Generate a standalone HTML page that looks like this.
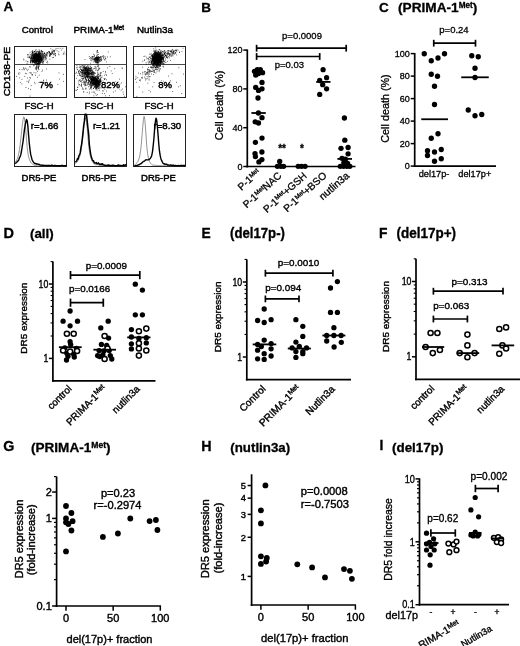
<!DOCTYPE html>
<html><head><meta charset="utf-8"><title>Figure</title>
<style>html,body{margin:0;padding:0;background:#fff}svg{display:block}text{font-family:"Liberation Sans", sans-serif;fill:#000}</style>
</head><body>
<svg width="520" height="646" viewBox="0 0 520 646">
<rect width="520" height="646" fill="#fff"/>
<text x="3.6" y="10.8" font-size="13.5" text-anchor="start" font-weight="bold" stroke="#000" stroke-width="0.3">A</text>
<text x="37.3" y="33.2" font-size="9.7" text-anchor="middle" font-weight="normal" stroke="#000" stroke-width="0.45">Control</text>
<text x="98.8" y="33.2" font-size="9.9" text-anchor="middle" font-weight="normal" stroke="#000" stroke-width="0.45">PRIMA-1<tspan dy="-3.5" font-size="6.3">Met</tspan></text>
<text x="155" y="33.2" font-size="9.8" text-anchor="middle" font-weight="normal" stroke="#000" stroke-width="0.45">Nutlin3a</text>
<text x="10" y="71.5" font-size="9.4" text-anchor="middle" font-weight="normal" stroke="#000" stroke-width="0.45" transform="rotate(-90 10 71.5)" textLength="49.5" lengthAdjust="spacingAndGlyphs">CD138-PE</text>
<rect x="14.5" y="46.5" width="52" height="51" fill="none" stroke="#222" stroke-width="1.0"/>
<line x1="14.5" y1="64.5" x2="66.5" y2="64.5" stroke="#333" stroke-width="0.9"/>
<rect x="74.5" y="46.5" width="52" height="51" fill="none" stroke="#222" stroke-width="1.0"/>
<line x1="74.5" y1="64.5" x2="126.5" y2="64.5" stroke="#333" stroke-width="0.9"/>
<rect x="133.5" y="46.5" width="52" height="51" fill="none" stroke="#222" stroke-width="1.0"/>
<line x1="133.5" y1="64.5" x2="185.5" y2="64.5" stroke="#333" stroke-width="0.9"/>
<path d="M36.0 59.5h0.75M36.1 57.4h0.75M34.3 57.7h0.75M39.6 59.3h0.75M39.4 58.8h0.75M37.7 58.7h0.75M32.4 60.3h0.75M38.0 59.4h0.75M32.3 53.8h0.75M34.4 57.0h0.75M37.5 58.1h0.75M38.1 56.6h0.75M37.5 59.2h0.75M35.0 62.5h0.75M38.1 61.2h0.75M35.1 56.4h0.75M35.8 57.9h0.75M38.3 58.8h0.75M35.5 55.8h0.75M35.3 61.3h0.75M34.6 58.8h0.75M37.8 54.5h0.75M36.8 61.5h0.75M31.5 57.4h0.75M36.4 56.2h0.75M38.0 58.0h0.75M32.9 60.3h0.75M38.4 60.6h0.75M40.4 59.1h0.75M37.0 55.0h0.75M38.3 56.7h0.75M35.5 55.0h0.75M34.2 56.9h0.75M40.1 53.1h0.75M32.9 58.8h0.75M40.5 59.6h0.75M31.8 51.9h0.75M37.6 56.4h0.75M33.8 60.6h0.75M39.6 58.6h0.75M37.3 59.3h0.75M40.8 59.7h0.75M38.0 59.6h0.75M32.6 61.4h0.75M39.2 59.5h0.75M31.6 56.6h0.75M38.9 53.7h0.75M36.2 60.7h0.75M33.3 62.2h0.75M38.1 57.8h0.75M37.5 59.8h0.75M37.0 61.1h0.75M35.0 57.2h0.75M39.4 58.3h0.75M34.4 60.6h0.75M40.5 57.1h0.75M33.1 57.9h0.75M36.3 57.5h0.75M40.4 55.6h0.75M40.0 55.0h0.75M34.7 59.8h0.75M39.6 60.3h0.75M37.6 58.6h0.75M37.1 59.6h0.75M36.2 58.9h0.75M38.2 58.2h0.75M38.7 59.6h0.75M41.9 59.0h0.75M35.6 57.3h0.75M36.7 60.5h0.75M35.8 59.2h0.75M41.5 51.8h0.75M33.8 58.8h0.75M37.7 58.8h0.75M35.6 59.8h0.75M37.4 56.9h0.75M43.0 59.1h0.75M35.3 58.0h0.75M36.1 58.0h0.75M29.6 57.0h0.75M39.3 55.3h0.75M36.5 60.6h0.75M38.9 61.9h0.75M32.3 57.3h0.75M35.8 59.8h0.75M39.5 51.5h0.75M39.5 54.6h0.75M38.5 54.5h0.75M37.2 61.2h0.75M36.3 58.7h0.75M38.8 58.6h0.75M36.5 62.0h0.75M39.4 57.5h0.75M43.8 55.3h0.75M39.1 57.5h0.75M37.0 60.0h0.75M37.3 59.8h0.75M32.7 54.4h0.75M38.3 55.8h0.75M34.0 54.5h0.75M40.0 60.1h0.75M40.5 55.9h0.75M36.7 55.3h0.75M38.7 62.2h0.75M34.4 62.1h0.75M39.3 57.8h0.75M31.6 61.7h0.75M36.4 56.7h0.75M37.7 59.2h0.75M40.6 55.6h0.75M39.7 61.9h0.75M40.5 57.7h0.75M34.8 60.7h0.75M37.0 58.5h0.75M40.4 57.5h0.75M30.7 57.2h0.75M31.9 60.2h0.75M37.5 56.7h0.75M36.7 60.3h0.75M36.9 61.5h0.75M36.5 60.8h0.75M40.6 62.2h0.75M35.0 60.4h0.75M31.8 55.5h0.75M31.6 60.9h0.75M33.5 58.2h0.75M36.2 58.1h0.75M35.2 58.8h0.75M41.4 58.3h0.75M38.1 60.7h0.75M36.2 55.1h0.75M35.3 60.9h0.75M32.4 56.7h0.75M39.3 60.2h0.75M36.7 60.2h0.75M37.1 55.3h0.75M32.6 56.6h0.75M39.1 56.8h0.75M34.4 56.3h0.75M32.7 57.9h0.75M33.6 59.1h0.75M30.6 59.0h0.75M35.0 53.3h0.75M38.6 57.5h0.75M30.9 56.0h0.75M37.5 57.1h0.75M38.7 60.1h0.75M38.4 59.0h0.75M40.2 59.8h0.75M37.9 53.0h0.75M39.0 61.5h0.75M35.9 57.0h0.75M41.7 53.8h0.75M37.9 64.3h0.75M34.3 59.9h0.75M41.6 57.9h0.75M38.2 60.5h0.75M34.3 58.0h0.75M37.5 60.3h0.75M36.6 57.7h0.75M34.1 57.3h0.75M39.0 58.5h0.75M34.5 56.1h0.75M43.6 61.0h0.75M38.4 51.7h0.75M38.3 59.4h0.75M41.1 59.3h0.75M36.5 59.5h0.75M31.6 60.8h0.75M37.5 56.4h0.75M40.1 62.7h0.75M33.1 56.5h0.75M37.5 58.7h0.75M35.7 55.8h0.75M42.2 60.8h0.75M33.6 54.8h0.75M41.1 60.7h0.75M41.4 60.2h0.75M34.4 58.9h0.75M31.1 56.3h0.75M36.5 59.5h0.75M34.8 57.9h0.75M37.9 59.1h0.75M38.4 58.7h0.75M35.9 60.2h0.75M36.8 56.1h0.75M35.1 58.2h0.75M36.4 58.6h0.75M36.7 58.6h0.75M36.4 55.1h0.75M37.8 60.8h0.75M37.8 57.7h0.75M37.9 55.8h0.75M31.8 58.3h0.75M34.3 60.0h0.75M33.9 51.6h0.75M34.0 62.1h0.75M35.7 54.8h0.75M34.7 59.5h0.75M38.0 58.6h0.75M40.6 60.0h0.75M36.6 59.7h0.75M41.0 60.6h0.75M39.4 55.5h0.75M36.3 60.0h0.75M35.9 60.9h0.75M38.3 60.5h0.75M36.1 64.6h0.75M39.9 57.7h0.75M36.9 64.7h0.75M35.8 60.4h0.75M39.2 58.2h0.75M33.7 58.7h0.75M37.6 61.0h0.75M38.7 58.3h0.75M38.9 59.5h0.75M37.2 58.3h0.75M36.1 59.9h0.75M34.0 56.6h0.75M36.7 54.5h0.75M35.6 53.2h0.75M34.9 59.6h0.75M38.2 58.1h0.75M36.1 54.7h0.75M41.5 59.5h0.75M39.5 56.0h0.75M36.2 53.7h0.75M38.7 60.5h0.75M31.8 58.1h0.75M38.3 53.8h0.75M32.0 55.5h0.75M35.1 54.7h0.75M36.8 58.8h0.75M38.3 60.0h0.75M40.6 61.1h0.75M33.3 56.9h0.75M33.9 55.5h0.75M36.5 58.2h0.75M38.0 54.2h0.75M33.5 58.1h0.75M36.2 57.4h0.75M36.5 56.3h0.75M38.5 59.1h0.75M36.5 56.5h0.75M36.2 51.4h0.75M34.1 58.3h0.75M32.8 58.7h0.75M37.1 54.8h0.75M36.0 57.4h0.75M37.9 59.7h0.75M36.6 56.1h0.75M36.3 58.0h0.75M38.6 58.9h0.75M34.8 54.8h0.75M35.7 56.3h0.75M33.8 57.9h0.75M35.4 58.5h0.75M38.1 57.2h0.75M42.7 57.4h0.75M39.6 58.5h0.75M39.6 52.3h0.75M34.7 58.8h0.75M38.3 64.0h0.75M37.5 61.4h0.75M38.7 60.6h0.75M38.0 57.8h0.75M38.0 55.5h0.75M39.8 55.7h0.75M37.3 63.5h0.75M36.1 58.2h0.75M39.7 58.3h0.75M34.6 58.8h0.75M38.2 60.0h0.75M34.7 62.6h0.75M41.0 58.2h0.75M37.4 57.1h0.75M40.4 56.4h0.75M38.5 57.0h0.75M34.9 60.0h0.75M40.2 58.2h0.75M34.9 60.2h0.75M36.6 59.0h0.75M40.7 61.0h0.75M35.3 63.9h0.75M36.7 60.2h0.75M35.0 58.1h0.75M32.2 62.7h0.75M40.3 55.2h0.75M32.8 54.1h0.75M39.8 57.1h0.75M36.5 57.4h0.75M36.4 55.5h0.75M36.8 54.6h0.75M36.5 59.0h0.75M37.9 57.6h0.75M34.4 58.6h0.75M35.4 62.1h0.75M38.7 57.9h0.75M35.5 56.4h0.75M34.3 57.3h0.75M37.5 59.5h0.75M38.2 63.4h0.75M34.9 58.2h0.75M44.0 53.5h0.75M35.3 58.6h0.75M37.1 59.2h0.75M36.1 59.1h0.75M36.8 60.1h0.75M31.8 56.0h0.75M36.7 55.6h0.75M34.0 59.8h0.75M35.0 59.8h0.75M38.6 59.0h0.75M38.0 57.9h0.75M33.0 58.1h0.75M37.9 56.9h0.75M36.4 60.1h0.75M34.4 59.8h0.75M41.5 56.8h0.75M37.1 57.8h0.75M40.7 59.0h0.75M39.0 56.5h0.75M36.7 58.2h0.75M32.1 61.8h0.75M39.0 53.8h0.75M38.6 57.9h0.75M37.9 59.1h0.75M32.8 57.7h0.75M40.6 56.8h0.75M34.0 54.8h0.75M33.5 59.0h0.75M41.1 59.3h0.75M37.3 63.8h0.75M35.3 56.5h0.75M38.1 59.6h0.75M34.1 55.3h0.75M37.5 58.8h0.75M33.3 57.7h0.75M35.3 59.4h0.75M36.4 58.0h0.75M35.8 60.8h0.75M40.3 57.3h0.75M38.9 56.3h0.75M36.9 60.1h0.75M40.6 57.2h0.75M36.5 58.7h0.75M32.8 58.2h0.75M34.9 59.1h0.75M33.8 53.3h0.75M36.8 58.9h0.75M35.3 60.4h0.75M36.0 56.7h0.75M37.9 54.3h0.75M34.9 58.1h0.75M38.9 57.8h0.75M37.5 56.6h0.75M37.5 62.4h0.75M34.9 64.1h0.75M35.0 58.2h0.75M37.2 60.8h0.75M33.5 52.9h0.75M38.3 60.2h0.75M38.3 64.8h0.75M37.2 58.8h0.75M39.1 59.1h0.75M41.0 55.1h0.75M35.7 49.6h0.75M38.8 57.3h0.75M39.1 63.6h0.75M36.7 57.6h0.75M35.4 56.1h0.75M35.1 59.8h0.75M36.8 58.4h0.75M36.2 60.5h0.75M38.0 57.8h0.75M38.4 57.8h0.75M33.7 61.8h0.75M37.9 55.8h0.75M39.5 59.1h0.75M32.6 62.2h0.75M37.6 60.4h0.75M37.2 57.8h0.75M32.7 60.6h0.75M36.8 57.5h0.75M37.6 58.4h0.75M38.5 57.3h0.75M36.6 52.9h0.75M35.6 59.9h0.75M40.2 57.3h0.75M36.4 62.2h0.75M35.9 60.0h0.75M41.1 58.3h0.75M39.9 56.4h0.75M37.2 58.0h0.75M37.0 61.0h0.75M42.9 56.5h0.75M35.2 59.4h0.75M34.0 59.4h0.75M38.2 57.5h0.75M38.1 54.3h0.75M38.7 54.3h0.75M34.9 56.8h0.75M35.7 60.3h0.75M36.9 57.2h0.75M38.1 62.2h0.75M36.7 59.1h0.75M39.9 58.9h0.75M33.4 64.4h0.75M42.4 53.2h0.75M36.6 59.2h0.75M39.2 59.9h0.75M36.0 55.6h0.75M37.0 60.8h0.75M33.9 55.6h0.75M36.6 53.4h0.75M36.0 57.1h0.75M37.9 56.4h0.75M34.4 57.2h0.75M36.6 56.5h0.75M36.7 60.1h0.75M39.8 62.5h0.75M34.7 57.2h0.75M30.2 62.9h0.75M34.8 58.1h0.75M38.1 54.8h0.75M37.9 58.1h0.75M32.0 58.9h0.75M39.8 53.5h0.75M38.8 58.7h0.75M37.9 59.3h0.75M40.1 57.6h0.75M39.0 57.2h0.75M38.6 56.2h0.75M36.4 62.5h0.75M37.9 57.8h0.75M33.7 56.2h0.75M37.2 60.5h0.75M37.8 59.5h0.75M36.6 61.6h0.75M35.7 56.8h0.75M39.0 58.4h0.75M36.0 56.8h0.75M36.0 59.8h0.75M37.6 55.2h0.75M37.8 58.6h0.75M34.1 60.1h0.75M36.0 57.4h0.75M38.8 61.5h0.75M34.9 59.3h0.75M34.4 64.0h0.75M35.4 61.2h0.75M35.0 60.2h0.75M42.5 51.8h0.75M35.6 59.5h0.75M36.5 56.5h0.75M42.3 58.4h0.75M32.4 60.3h0.75M32.2 61.1h0.75M35.2 58.6h0.75M40.0 58.5h0.75M33.1 54.0h0.75M39.8 60.1h0.75M34.6 60.3h0.75M38.0 59.8h0.75M30.8 57.4h0.75M39.0 60.0h0.75M39.0 52.1h0.75M37.1 59.4h0.75M43.3 55.8h0.75M35.8 58.3h0.75M39.0 57.1h0.75M39.7 56.2h0.75M37.4 56.9h0.75M37.1 56.5h0.75M32.5 60.9h0.75M37.5 56.8h0.75M37.2 60.7h0.75M34.2 57.9h0.75M38.1 59.5h0.75M35.8 52.9h0.75M39.9 59.0h0.75M36.7 57.5h0.75M37.4 57.1h0.75M34.0 56.4h0.75M35.1 56.7h0.75M33.7 59.8h0.75M33.3 59.8h0.75M34.1 59.1h0.75M40.3 58.7h0.75M34.8 58.3h0.75M37.1 53.9h0.75M35.1 58.6h0.75M35.5 58.4h0.75M38.6 60.1h0.75M39.1 59.7h0.75M36.0 58.2h0.75M36.0 57.4h0.75M36.2 53.9h0.75M35.8 58.1h0.75M34.2 58.1h0.75M38.0 57.8h0.75M42.1 51.7h0.75M36.2 53.6h0.75M39.2 64.8h0.75M30.2 58.5h0.75M38.0 57.4h0.75M38.1 52.6h0.75M38.9 59.1h0.75M36.8 56.7h0.75M38.4 57.0h0.75M37.3 56.9h0.75M30.9 58.1h0.75M37.2 60.1h0.75M34.4 58.1h0.75M38.3 58.6h0.75M39.9 63.2h0.75M34.3 53.4h0.75M38.9 62.0h0.75M39.1 60.2h0.75M35.1 56.4h0.75M39.0 55.9h0.75M32.0 55.7h0.75M43.2 63.0h0.75M34.9 56.4h0.75M37.3 56.3h0.75M40.1 58.0h0.75M33.9 61.5h0.75M35.2 58.8h0.75M36.7 57.4h0.75M37.5 56.5h0.75M31.9 52.7h0.75M33.4 56.3h0.75M36.6 58.3h0.75M38.1 58.5h0.75M34.6 56.4h0.75M31.2 57.8h0.75M38.0 59.5h0.75M36.4 57.8h0.75M39.1 58.2h0.75M38.6 59.7h0.75M37.3 61.5h0.75M35.2 57.3h0.75M34.6 56.2h0.75M40.7 62.6h0.75M36.8 59.6h0.75M39.8 60.2h0.75M39.8 55.0h0.75M35.0 59.3h0.75M40.4 58.5h0.75M34.5 57.3h0.75M35.0 56.1h0.75M40.6 56.6h0.75M36.8 63.6h0.75M39.8 59.0h0.75M35.1 59.2h0.75M40.9 59.8h0.75M40.0 58.4h0.75M38.0 57.7h0.75M37.8 61.5h0.75M33.0 58.0h0.75M37.3 56.8h0.75M35.9 60.2h0.75M41.9 59.8h0.75M37.5 54.3h0.75M41.7 58.4h0.75M36.6 55.4h0.75M36.6 55.5h0.75M36.9 59.4h0.75M36.8 58.9h0.75M34.5 61.8h0.75M35.0 53.7h0.75M36.2 56.3h0.75M34.1 57.3h0.75M37.5 55.2h0.75M36.3 61.8h0.75M38.5 57.8h0.75M37.0 57.9h0.75M36.6 60.0h0.75M36.5 52.2h0.75M36.6 56.0h0.75M38.4 56.7h0.75M37.1 63.6h0.75M34.0 55.4h0.75M33.0 52.2h0.75M31.8 59.1h0.75M35.0 53.5h0.75M32.8 59.7h0.75M34.7 57.3h0.75M37.6 61.6h0.75M41.7 60.8h0.75M37.1 58.7h0.75M41.4 61.8h0.75M35.9 59.3h0.75M37.4 58.3h0.75M35.4 54.9h0.75M35.3 54.3h0.75M39.9 59.5h0.75M33.6 61.7h0.75M39.0 53.4h0.75M41.5 60.2h0.75M42.1 55.1h0.75M38.1 59.3h0.75M37.2 58.6h0.75M39.4 54.5h0.75M33.5 54.7h0.75M35.3 56.7h0.75M37.7 58.9h0.75M36.8 56.5h0.75M35.6 60.6h0.75M38.7 58.5h0.75M35.9 62.1h0.75M35.2 59.8h0.75M39.7 57.5h0.75M38.8 55.4h0.75M39.3 58.7h0.75M32.6 59.9h0.75M34.4 61.4h0.75M34.9 57.8h0.75M37.4 57.4h0.75M37.4 56.8h0.75M38.4 58.2h0.75M37.2 51.3h0.75M39.7 58.3h0.75M32.1 58.4h0.75M37.9 60.9h0.75M33.9 62.1h0.75M36.3 64.2h0.75M36.3 59.9h0.75M35.7 55.4h0.75M39.6 60.5h0.75M40.7 60.3h0.75M35.2 54.0h0.75M35.0 56.5h0.75M34.6 59.7h0.75M37.6 57.5h0.75M37.1 57.8h0.75M37.3 60.1h0.75M39.2 56.5h0.75M32.8 61.8h0.75M37.0 61.0h0.75M32.4 57.4h0.75M36.8 54.6h0.75M35.4 60.0h0.75M39.5 62.2h0.75M34.5 54.7h0.75M38.1 60.6h0.75M37.2 54.9h0.75M38.7 60.2h0.75M38.1 57.0h0.75M37.5 60.2h0.75M34.2 51.6h0.75M38.6 58.9h0.75M37.1 60.5h0.75M34.1 57.6h0.75M35.5 59.7h0.75M45.0 55.5h0.75M47.3 61.3h0.75M41.0 59.0h0.75M45.9 55.6h0.75M36.4 53.9h0.75M39.4 61.8h0.75M39.7 58.6h0.75M36.0 58.2h0.75M29.9 62.1h0.75M35.0 54.0h0.75M33.2 55.2h0.75M41.3 60.5h0.75M30.2 61.6h0.75M41.4 54.9h0.75M29.6 56.0h0.75M33.8 59.1h0.75M35.2 50.8h0.75M38.2 52.1h0.75M41.5 52.7h0.75M33.5 55.1h0.75M34.3 62.3h0.75M41.3 59.0h0.75M38.6 52.0h0.75M34.4 56.0h0.75M32.1 59.9h0.75M33.3 55.6h0.75M31.8 51.2h0.75M40.0 61.6h0.75M37.9 54.0h0.75M23.5 60.0h0.75M43.1 57.7h0.75M41.6 61.9h0.75M42.6 55.2h0.75M42.3 59.4h0.75M29.3 57.2h0.75M29.9 58.1h0.75M39.9 53.4h0.75M26.7 63.4h0.75M38.9 62.3h0.75M30.4 62.1h0.75M47.4 62.9h0.75M35.9 58.6h0.75M36.2 61.0h0.75M42.2 57.1h0.75M30.2 61.0h0.75M34.7 60.0h0.75M38.3 62.9h0.75M42.7 55.2h0.75M38.7 63.3h0.75M34.3 59.4h0.75M43.0 61.0h0.75M39.6 52.6h0.75M30.7 59.2h0.75M38.9 66.0h0.75M32.7 62.0h0.75M40.9 51.2h0.75M32.9 58.6h0.75M34.5 57.3h0.75M39.4 54.4h0.75M39.3 55.0h0.75M34.3 59.7h0.75M34.1 58.9h0.75M45.0 56.5h0.75M36.3 60.1h0.75M35.2 61.5h0.75M30.6 60.5h0.75M34.4 55.1h0.75M45.8 53.3h0.75M45.8 58.5h0.75M44.3 53.1h0.75M43.0 61.7h0.75M36.4 57.1h0.75M49.3 56.4h0.75M34.9 55.6h0.75M39.2 58.3h0.75M37.9 63.3h0.75M35.4 59.4h0.75M44.3 53.0h0.75M42.2 63.1h0.75M30.2 54.7h0.75M31.8 51.9h0.75M39.3 50.8h0.75M39.5 62.1h0.75M28.9 57.5h0.75M27.4 61.5h0.75M33.3 57.1h0.75M37.3 59.3h0.75M35.3 57.8h0.75M34.3 58.3h0.75M31.1 58.5h0.75M27.3 57.2h0.75M46.6 56.4h0.75M30.7 59.3h0.75M32.1 52.5h0.75M33.3 60.5h0.75M38.9 56.9h0.75M32.4 54.4h0.75M43.7 57.4h0.75M32.2 50.9h0.75M30.2 66.9h0.75M31.3 58.0h0.75M38.1 56.8h0.75M35.6 53.0h0.75M31.7 64.0h0.75M33.2 60.9h0.75M28.5 57.7h0.75M38.3 60.9h0.75M31.4 60.3h0.75M38.9 54.7h0.75M39.4 54.1h0.75M33.0 58.0h0.75M23.4 59.0h0.75M32.0 53.2h0.75M34.9 60.4h0.75M35.0 62.1h0.75M31.2 53.8h0.75M44.8 57.8h0.75M41.7 54.0h0.75M41.0 57.8h0.75M40.2 57.1h0.75M43.0 54.4h0.75M32.2 53.1h0.75M42.8 54.2h0.75M31.8 55.0h0.75M34.8 53.5h0.75M35.5 55.6h0.75M34.2 54.6h0.75M37.2 55.9h0.75M37.6 58.3h0.75M38.7 49.8h0.75M34.3 55.1h0.75M40.9 51.5h0.75M33.4 57.0h0.75M35.3 61.1h0.75M34.8 61.1h0.75M29.7 52.3h0.75M43.1 58.1h0.75M39.4 57.6h0.75M39.4 53.0h0.75M41.7 55.0h0.75M41.9 57.1h0.75M27.1 54.5h0.75M42.6 56.2h0.75M35.0 58.6h0.75M34.9 55.9h0.75M37.5 57.9h0.75M44.6 56.6h0.75M46.4 62.4h0.75M45.6 59.9h0.75M37.7 57.9h0.75M36.3 55.1h0.75M36.7 55.3h0.75M45.2 58.2h0.75M34.8 51.2h0.75M36.7 56.1h0.75M31.6 54.4h0.75M25.7 61.0h0.75M36.7 66.4h0.75M36.8 57.0h0.75M44.2 56.9h0.75M37.8 56.1h0.75M34.0 63.1h0.75M42.0 62.7h0.75M35.3 57.8h0.75M32.6 61.4h0.75M30.0 60.4h0.75M42.5 61.6h0.75M32.3 61.9h0.75M33.4 55.4h0.75M30.4 62.4h0.75M45.2 54.3h0.75M33.2 56.9h0.75M49.5 59.2h0.75M34.3 51.7h0.75M33.6 62.0h0.75M46.3 55.3h0.75M33.5 56.2h0.75M27.6 61.9h0.75M31.6 61.9h0.75M28.5 54.3h0.75M38.4 54.7h0.75M40.9 57.0h0.75M31.1 60.5h0.75M41.2 50.4h0.75M46.1 57.9h0.75M40.8 50.6h0.75M33.4 56.8h0.75M42.4 51.7h0.75M32.6 51.2h0.75M35.8 58.9h0.75M28.6 56.7h0.75M39.6 62.6h0.75M40.3 56.0h0.75M31.1 55.1h0.75M33.7 58.5h0.75M36.8 63.3h0.75M38.4 53.6h0.75M44.7 59.7h0.75M37.5 55.0h0.75M27.6 55.3h0.75M41.6 54.1h0.75M30.4 59.1h0.75M38.2 59.4h0.75M40.3 61.9h0.75M32.8 61.4h0.75M32.1 60.6h0.75M37.9 58.2h0.75M41.8 56.8h0.75M42.6 59.7h0.75M37.7 55.5h0.75M33.2 56.2h0.75M36.0 57.6h0.75M51.9 57.6h0.75M40.8 54.0h0.75M33.4 56.9h0.75M51.3 51.1h0.75M61.3 50.0h0.75M50.0 54.1h0.75M51.3 54.4h0.75M52.0 53.4h0.75M36.8 54.9h0.75M33.6 58.3h0.75M52.2 52.6h0.75M44.3 53.6h0.75M62.9 54.2h0.75M49.6 56.2h0.75M38.9 52.0h0.75M46.6 52.5h0.75M46.1 54.7h0.75M50.3 54.0h0.75M49.8 55.4h0.75M62.4 48.3h0.75M51.1 52.7h0.75M52.5 49.9h0.75M37.7 51.5h0.75M53.7 53.1h0.75M50.5 48.7h0.75M47.4 52.5h0.75M40.1 53.8h0.75M54.9 53.5h0.75M49.8 54.6h0.75M45.8 54.5h0.75M50.3 54.5h0.75M49.5 53.3h0.75M49.1 52.4h0.75M53.0 57.4h0.75M59.8 48.3h0.75M54.9 54.1h0.75M63.2 53.3h0.75M55.4 50.0h0.75M43.9 55.3h0.75M53.5 50.7h0.75M47.3 53.3h0.75M50.4 54.1h0.75M48.0 51.5h0.75M58.7 54.8h0.75M49.3 55.7h0.75M53.1 54.2h0.75M53.4 51.3h0.75M54.0 54.7h0.75M43.7 58.8h0.75M64.6 54.0h0.75M63.9 52.0h0.75M47.6 52.8h0.75M44.3 55.0h0.75M49.8 54.9h0.75M35.9 61.2h0.75M54.7 53.4h0.75M51.9 52.7h0.75M49.1 52.0h0.75M51.2 53.2h0.75M52.2 51.3h0.75M50.3 53.5h0.75M54.2 50.5h0.75M52.9 54.8h0.75M54.2 51.9h0.75M46.6 53.8h0.75M55.1 55.5h0.75M48.9 52.5h0.75M52.6 53.3h0.75M43.6 53.4h0.75M49.3 55.0h0.75M41.6 53.3h0.75M53.5 50.3h0.75M50.8 54.0h0.75M49.2 51.6h0.75M49.6 52.9h0.75M52.4 51.3h0.75M57.6 48.5h0.75M48.8 53.8h0.75M56.7 50.8h0.75M53.8 51.5h0.75M55.2 55.9h0.75M47.2 55.0h0.75M43.5 56.8h0.75M58.5 51.8h0.75M42.1 56.0h0.75M58.0 54.0h0.75M55.7 48.6h0.75M45.2 57.4h0.75M41.4 57.6h0.75M43.1 80.1h0.75M37.0 71.3h0.75M18.2 73.2h0.75M26.4 73.6h0.75M33.6 72.8h0.75M29.5 77.4h0.75M28.0 88.7h0.75M31.5 74.7h0.75M26.3 69.0h0.75M38.8 75.2h0.75M19.4 69.5h0.75M26.9 70.4h0.75M31.9 75.1h0.75M18.6 74.4h0.75M27.2 78.0h0.75M24.4 76.4h0.75M34.3 82.3h0.75M27.9 69.2h0.75M21.6 79.4h0.75M33.2 65.7h0.75M29.2 66.8h0.75M28.4 81.2h0.75M37.1 77.2h0.75M46.0 69.1h0.75M28.0 82.4h0.75M22.9 68.4h0.75M25.0 73.4h0.75M19.3 77.9h0.75M32.3 74.6h0.75M41.6 71.4h0.75M38.5 69.6h0.75M29.6 72.6h0.75M24.0 69.1h0.75M25.2 68.2h0.75M23.6 69.8h0.75M19.5 72.9h0.75M63.0 74.4h0.75M30.8 85.6h0.75M21.5 83.9h0.75M63.3 81.4h0.75M28.9 80.0h0.75M42.2 70.1h0.75M21.7 69.6h0.75M30.2 78.1h0.75M29.9 73.0h0.75M19.9 82.4h0.75M57.5 84.4h0.75M44.0 85.7h0.75M25.6 87.5h0.75M38.5 82.5h0.75M46.1 80.0h0.75M31.0 73.0h0.75M26.6 81.4h0.75M34.7 83.7h0.75M16.1 76.4h0.75M58.6 72.9h0.75M43.3 80.7h0.75M29.7 96.1h0.75M30.3 89.4h0.75M23.4 67.6h0.75M59.1 79.1h0.75M38.4 66.5h0.75M35.5 67.4h0.75M38.0 66.8h0.75M39.2 63.3h0.75M37.9 68.0h0.75M36.2 69.8h0.75M35.6 59.8h0.75M37.9 60.6h0.75M37.2 58.4h0.75M37.4 60.5h0.75M37.7 58.9h0.75M37.8 63.9h0.75M37.4 64.7h0.75M37.5 59.7h0.75M34.2 65.1h0.75M36.2 63.2h0.75M37.8 57.1h0.75M36.4 62.6h0.75M36.0 66.3h0.75M37.1 61.7h0.75M36.1 68.2h0.75M36.5 67.3h0.75M37.8 57.4h0.75M36.0 65.0h0.75M37.7 68.1h0.75M38.3 69.1h0.75M36.9 64.2h0.75M38.2 63.3h0.75M38.6 58.6h0.75M38.1 64.3h0.75M34.9 68.9h0.75M37.7 65.1h0.75M36.0 63.1h0.75M39.1 61.7h0.75M33.1 61.6h0.75M35.9 64.5h0.75M36.8 61.4h0.75M36.3 69.2h0.75M35.6 72.8h0.75M36.6 60.6h0.75M38.2 67.3h0.75M36.0 68.0h0.75M35.1 61.3h0.75M38.7 64.0h0.75M35.7 67.1h0.75M38.4 64.9h0.75M35.1 63.6h0.75M37.8 68.1h0.75M39.5 64.0h0.75M36.7 64.8h0.75M38.7 61.2h0.75M38.9 54.0h0.75M38.3 62.3h0.75M37.9 67.8h0.75M35.9 64.7h0.75M37.6 67.3h0.75M36.2 61.0h0.75M35.0 75.2h0.75M37.1 64.1h0.75M35.5 68.7h0.75" stroke="#000" stroke-width="0.75" fill="none"/>
<path d="M95.9 61.4h0.75M98.7 59.0h0.75M98.5 57.1h0.75M96.3 58.0h0.75M94.5 59.0h0.75M96.7 61.4h0.75M90.3 57.9h0.75M95.2 58.2h0.75M97.8 59.7h0.75M97.1 58.2h0.75M98.0 59.6h0.75M93.3 58.6h0.75M94.3 57.0h0.75M97.3 59.1h0.75M97.2 57.5h0.75M96.6 57.4h0.75M97.8 60.2h0.75M100.5 61.2h0.75M95.4 58.2h0.75M95.1 59.5h0.75M101.0 60.2h0.75M92.6 56.9h0.75M94.4 59.9h0.75M97.0 59.5h0.75M100.6 57.6h0.75M95.3 62.3h0.75M97.7 57.7h0.75M92.9 56.4h0.75M92.1 59.1h0.75M97.1 60.7h0.75M96.7 57.8h0.75M95.5 62.2h0.75M93.5 59.3h0.75M97.1 60.0h0.75M96.2 59.8h0.75M98.6 58.7h0.75M96.1 58.7h0.75M95.1 58.6h0.75M96.4 59.4h0.75M99.7 61.2h0.75M96.1 60.0h0.75M97.6 60.3h0.75M97.0 59.5h0.75M96.1 57.7h0.75M98.7 61.2h0.75M98.3 59.7h0.75M97.5 58.2h0.75M93.4 60.1h0.75M97.4 58.1h0.75M95.1 61.2h0.75M93.4 62.0h0.75M98.3 63.0h0.75M95.6 59.0h0.75M96.0 59.3h0.75M96.6 57.7h0.75M99.1 57.7h0.75M96.0 59.9h0.75M95.9 58.3h0.75M97.7 58.4h0.75M94.5 58.8h0.75M96.6 61.9h0.75M94.8 60.6h0.75M95.4 58.4h0.75M96.3 59.5h0.75M98.7 62.0h0.75M95.7 61.3h0.75M99.0 60.4h0.75M95.5 60.5h0.75M96.8 59.6h0.75M96.5 60.1h0.75M99.2 60.9h0.75M96.6 60.7h0.75M99.9 57.4h0.75M99.9 56.7h0.75M98.1 60.0h0.75M100.0 59.5h0.75M96.0 57.6h0.75M94.5 60.3h0.75M96.5 57.8h0.75M98.1 57.7h0.75M96.6 57.7h0.75M98.5 67.3h0.75M96.9 52.1h0.75M97.2 60.4h0.75M97.3 62.8h0.75M96.7 64.6h0.75M97.8 61.1h0.75M96.6 57.6h0.75M97.6 54.5h0.75M96.9 56.3h0.75M95.7 63.0h0.75M97.0 60.2h0.75M97.8 52.5h0.75M96.9 61.4h0.75M97.7 54.6h0.75M97.6 61.1h0.75M98.2 65.7h0.75M97.5 70.7h0.75M97.0 57.9h0.75M96.7 55.3h0.75M97.0 50.6h0.75M96.9 62.1h0.75M97.9 58.3h0.75M98.2 56.7h0.75M96.9 50.6h0.75M96.3 56.0h0.75M98.3 62.6h0.75M96.0 62.6h0.75M97.4 58.9h0.75M97.0 58.5h0.75M96.5 51.3h0.75M96.9 66.3h0.75M98.3 58.6h0.75M96.3 59.0h0.75M97.8 61.7h0.75M96.5 61.8h0.75M96.8 62.5h0.75M96.6 52.8h0.75M97.1 63.7h0.75M96.0 59.5h0.75M97.8 58.2h0.75M96.4 69.9h0.75M97.7 65.0h0.75M96.2 68.0h0.75M95.5 57.5h0.75M97.6 66.5h0.75M96.2 56.8h0.75M97.2 50.6h0.75M97.6 62.7h0.75M96.6 62.6h0.75M100.8 58.9h0.75M99.5 60.3h0.75M94.7 58.7h0.75M94.5 59.7h0.75M95.0 59.1h0.75M97.7 58.6h0.75M105.3 58.4h0.75M103.9 59.5h0.75M103.4 58.3h0.75M101.5 59.4h0.75M94.0 58.8h0.75M96.4 58.5h0.75M103.3 57.7h0.75M88.9 56.5h0.75M94.8 57.8h0.75M97.1 59.2h0.75M105.5 58.9h0.75M99.2 57.6h0.75M99.8 60.1h0.75M103.5 56.2h0.75M101.3 60.3h0.75M101.0 56.8h0.75M95.5 59.2h0.75M99.0 57.6h0.75M92.7 59.6h0.75M90.6 60.2h0.75M97.1 58.8h0.75M90.6 57.8h0.75M100.3 56.8h0.75M107.0 56.9h0.75M91.1 58.5h0.75M99.3 59.3h0.75M95.2 58.3h0.75M95.9 57.8h0.75M84.6 59.6h0.75M98.2 58.7h0.75M94.0 58.8h0.75M96.9 58.4h0.75M102.3 56.5h0.75M98.2 57.3h0.75M95.5 60.2h0.75M91.8 58.4h0.75M94.2 59.6h0.75M92.3 56.6h0.75M99.5 58.1h0.75M95.2 61.1h0.75M91.9 56.9h0.75M97.9 59.2h0.75M94.0 61.0h0.75M109.9 56.8h0.75M107.8 51.9h0.75M105.1 57.0h0.75M97.8 57.0h0.75M93.3 54.3h0.75M94.7 61.7h0.75M103.6 57.0h0.75M94.0 56.0h0.75M90.1 63.2h0.75M100.8 58.3h0.75M94.2 55.1h0.75M104.6 60.2h0.75M91.5 60.8h0.75M90.6 59.8h0.75M91.5 56.8h0.75M99.9 59.2h0.75M102.8 55.6h0.75M106.1 61.9h0.75M96.9 59.3h0.75M92.5 57.6h0.75M89.4 58.3h0.75M87.0 76.5h0.75M89.8 74.9h0.75M85.0 70.9h0.75M85.1 72.4h0.75M79.3 73.8h0.75M80.6 69.5h0.75M86.4 70.0h0.75M92.4 72.0h0.75M92.0 76.4h0.75M84.5 73.0h0.75M91.0 71.1h0.75M86.6 69.9h0.75M86.5 70.6h0.75M86.6 75.3h0.75M91.4 72.7h0.75M87.0 74.8h0.75M85.2 68.1h0.75M90.4 69.0h0.75M89.7 68.8h0.75M93.0 68.8h0.75M89.4 77.2h0.75M82.8 76.6h0.75M88.9 74.5h0.75M86.1 70.7h0.75M84.9 70.7h0.75M79.8 69.2h0.75M92.9 77.7h0.75M85.0 69.2h0.75M87.7 75.6h0.75M88.9 68.0h0.75M86.9 72.3h0.75M91.5 76.4h0.75M88.2 76.2h0.75M84.9 77.0h0.75M84.7 73.0h0.75M89.6 69.0h0.75M83.7 65.5h0.75M86.9 71.7h0.75M85.1 73.4h0.75M78.6 71.0h0.75M86.6 70.9h0.75M89.2 78.1h0.75M84.7 68.4h0.75M84.1 71.9h0.75M88.4 69.0h0.75M89.9 68.6h0.75M89.3 73.6h0.75M88.0 79.4h0.75M85.3 71.1h0.75M88.0 74.9h0.75M81.4 72.3h0.75M83.6 73.7h0.75M91.3 72.5h0.75M85.9 72.4h0.75M75.5 73.4h0.75M88.3 72.6h0.75M84.9 69.2h0.75M85.6 75.9h0.75M85.9 76.4h0.75M76.9 69.3h0.75M87.3 71.8h0.75M80.2 68.9h0.75M90.9 67.8h0.75M82.7 67.7h0.75M84.3 73.8h0.75M91.6 70.3h0.75M84.2 77.3h0.75M86.0 67.5h0.75M84.0 69.1h0.75M82.6 70.3h0.75M89.5 73.3h0.75M81.3 80.9h0.75M82.7 71.9h0.75M86.4 74.4h0.75M85.1 73.3h0.75M94.0 72.9h0.75M82.4 72.6h0.75M83.4 70.3h0.75M87.0 73.0h0.75M85.3 74.6h0.75M85.6 67.2h0.75M89.5 70.9h0.75M90.7 70.0h0.75M88.4 73.1h0.75M76.5 65.7h0.75M82.2 76.3h0.75M79.4 74.3h0.75M90.3 73.9h0.75M88.8 70.3h0.75M86.3 72.6h0.75M87.8 74.4h0.75M85.5 69.3h0.75M84.2 73.0h0.75M80.2 66.9h0.75M84.8 69.8h0.75M85.1 70.8h0.75M85.2 73.3h0.75M88.1 76.1h0.75M90.2 68.6h0.75M88.6 70.9h0.75M83.4 76.8h0.75M84.0 68.6h0.75M84.8 68.7h0.75M90.0 73.5h0.75M91.4 73.7h0.75M84.1 75.2h0.75M83.9 70.0h0.75M85.7 71.9h0.75M90.7 70.1h0.75M87.6 71.8h0.75M81.7 67.6h0.75M85.5 73.1h0.75M87.5 73.6h0.75M86.5 70.3h0.75M87.9 68.5h0.75M81.4 70.2h0.75M81.1 69.5h0.75M83.6 69.6h0.75M86.1 69.0h0.75M84.8 65.8h0.75M86.8 68.8h0.75M83.4 72.4h0.75M77.4 69.7h0.75M86.6 72.2h0.75M80.8 72.1h0.75M86.8 68.5h0.75M89.0 71.9h0.75M86.4 70.3h0.75M88.3 72.3h0.75M90.5 73.8h0.75M84.0 70.8h0.75M89.7 70.9h0.75M87.7 73.7h0.75M86.8 72.6h0.75M86.8 69.2h0.75M90.7 71.8h0.75M84.0 69.1h0.75M87.6 68.1h0.75M82.6 78.4h0.75M91.1 75.9h0.75M91.3 74.3h0.75M80.1 75.4h0.75M90.9 73.9h0.75M79.1 75.4h0.75M91.3 70.6h0.75M86.8 74.5h0.75M86.0 75.6h0.75M86.6 74.2h0.75M86.6 66.7h0.75M82.6 82.4h0.75M87.3 76.4h0.75M90.5 78.1h0.75M88.3 69.9h0.75M85.6 74.9h0.75M78.3 71.7h0.75M89.3 76.7h0.75M82.9 69.2h0.75M79.4 67.6h0.75M88.3 79.2h0.75M82.1 76.2h0.75M87.9 70.2h0.75M86.1 72.5h0.75M94.2 78.8h0.75M94.7 73.1h0.75M89.9 76.9h0.75M88.2 73.2h0.75M85.6 70.3h0.75M81.8 78.2h0.75M87.3 71.8h0.75M87.0 78.2h0.75M85.9 70.8h0.75M83.5 71.5h0.75M84.7 72.4h0.75M97.8 74.3h0.75M83.1 78.2h0.75M89.5 74.9h0.75M88.9 74.9h0.75M88.8 77.0h0.75M90.0 76.9h0.75M84.4 71.6h0.75M83.6 74.9h0.75M89.4 70.5h0.75M88.5 81.2h0.75M90.9 68.3h0.75M86.0 74.0h0.75M86.2 73.1h0.75M90.7 73.4h0.75M82.2 73.9h0.75M85.9 72.2h0.75M84.2 66.8h0.75M81.7 70.1h0.75M90.5 68.2h0.75M83.6 73.4h0.75M77.4 75.6h0.75M83.5 73.8h0.75M84.5 72.7h0.75M86.7 71.8h0.75M79.5 66.0h0.75M86.1 76.7h0.75M84.3 73.5h0.75M86.9 73.5h0.75M90.0 66.9h0.75M87.3 71.3h0.75M85.1 68.7h0.75M83.4 67.9h0.75M82.2 80.2h0.75M92.6 72.4h0.75M89.0 68.7h0.75M86.8 76.9h0.75M86.1 68.3h0.75M85.4 68.2h0.75M81.1 70.5h0.75M84.8 68.8h0.75M83.0 68.2h0.75M87.2 76.7h0.75M85.5 79.5h0.75M80.3 72.2h0.75M82.0 70.8h0.75M86.7 73.8h0.75M90.5 70.3h0.75M81.7 70.7h0.75M87.4 69.5h0.75M89.6 78.0h0.75M81.0 72.6h0.75M87.1 71.1h0.75M81.0 75.9h0.75M87.1 70.2h0.75M87.9 74.2h0.75M89.1 74.1h0.75M87.8 67.8h0.75M84.7 72.1h0.75M76.0 78.3h0.75M84.9 68.0h0.75M79.6 72.0h0.75M86.4 69.8h0.75M84.8 68.6h0.75M83.5 71.2h0.75M83.9 73.9h0.75M85.8 72.2h0.75M87.8 76.4h0.75M88.5 72.8h0.75M85.7 68.9h0.75M85.0 74.1h0.75M87.1 70.5h0.75M81.4 66.0h0.75M87.5 75.5h0.75M87.7 67.1h0.75M85.5 72.5h0.75M82.9 72.7h0.75M85.6 68.8h0.75M81.7 74.2h0.75M87.6 68.8h0.75M82.5 74.6h0.75M88.5 70.9h0.75M92.2 71.3h0.75M82.4 75.2h0.75M85.6 72.9h0.75M86.4 68.3h0.75M81.9 70.7h0.75M91.5 68.8h0.75M91.3 73.0h0.75M82.2 72.3h0.75M88.4 68.9h0.75M78.4 72.3h0.75M82.2 72.9h0.75M79.2 70.6h0.75M83.3 66.4h0.75M85.4 72.3h0.75M84.2 67.5h0.75M87.1 65.8h0.75M88.3 73.7h0.75M92.5 75.5h0.75M87.6 72.8h0.75M86.4 67.2h0.75M91.7 74.1h0.75M85.2 67.7h0.75M91.8 74.2h0.75M81.9 73.7h0.75M93.3 72.4h0.75M87.8 70.5h0.75M84.0 75.3h0.75M97.7 73.3h0.75M85.8 74.5h0.75M85.2 74.2h0.75M89.4 68.6h0.75M82.3 71.2h0.75M89.4 73.1h0.75M90.9 67.4h0.75M88.1 69.8h0.75M86.7 73.0h0.75M82.7 70.7h0.75M82.0 72.3h0.75M83.2 69.8h0.75M87.1 69.6h0.75M90.5 70.0h0.75M89.4 73.1h0.75M82.5 70.7h0.75M83.2 70.3h0.75M85.3 78.0h0.75M84.8 77.1h0.75M87.9 67.4h0.75M77.8 73.3h0.75M79.0 73.6h0.75M90.1 73.5h0.75M85.5 70.9h0.75M87.3 70.8h0.75M84.3 70.3h0.75M90.6 70.1h0.75M87.7 67.9h0.75M83.7 66.8h0.75M85.6 74.1h0.75M87.4 70.2h0.75M88.6 70.8h0.75M87.7 72.9h0.75M81.5 74.0h0.75M85.9 79.5h0.75M94.5 80.2h0.75M99.5 84.1h0.75M100.7 84.2h0.75M94.6 83.6h0.75M92.9 80.2h0.75M93.6 80.9h0.75M97.5 80.9h0.75M96.1 80.7h0.75M97.8 75.0h0.75M94.6 82.1h0.75M92.1 83.9h0.75M95.8 85.3h0.75M98.0 84.0h0.75M94.8 78.8h0.75M94.6 80.5h0.75M95.9 80.7h0.75M104.1 79.2h0.75M98.6 81.2h0.75M94.5 84.1h0.75M95.2 78.6h0.75M96.4 81.5h0.75M89.2 81.2h0.75M92.1 79.3h0.75M96.6 82.9h0.75M94.4 87.4h0.75M96.4 80.4h0.75M95.9 81.6h0.75M88.8 76.4h0.75M91.2 86.5h0.75M94.7 81.0h0.75M93.6 84.1h0.75M95.3 86.3h0.75M97.5 86.6h0.75M94.9 82.7h0.75M93.9 81.1h0.75M90.2 79.3h0.75M92.4 79.6h0.75M98.7 83.1h0.75M98.7 84.7h0.75M97.9 85.0h0.75M93.4 83.6h0.75M94.3 80.2h0.75M98.7 88.2h0.75M92.4 85.9h0.75M97.6 80.0h0.75M96.0 82.9h0.75M96.3 81.1h0.75M91.5 81.2h0.75M97.7 84.3h0.75M97.1 85.1h0.75M92.3 81.2h0.75M96.2 84.6h0.75M95.7 83.3h0.75M95.6 87.4h0.75M88.9 80.6h0.75M102.4 83.8h0.75M89.9 81.2h0.75M91.1 79.2h0.75M95.8 86.5h0.75M96.5 83.8h0.75M98.1 82.9h0.75M92.7 81.1h0.75M96.2 81.3h0.75M93.3 80.5h0.75M90.9 78.3h0.75M94.9 80.8h0.75M95.3 85.5h0.75M96.1 81.9h0.75M91.8 78.3h0.75M96.3 79.7h0.75M96.4 79.2h0.75M95.6 81.7h0.75M98.1 81.3h0.75M94.1 82.2h0.75M95.4 86.3h0.75M94.5 80.2h0.75M94.3 82.9h0.75M95.9 83.8h0.75M91.2 87.6h0.75M100.5 82.7h0.75M91.7 81.6h0.75M96.4 76.1h0.75M95.2 77.9h0.75M96.5 85.7h0.75M98.2 78.4h0.75M99.2 84.9h0.75M94.2 82.9h0.75M99.6 81.7h0.75M95.2 80.3h0.75M98.5 76.7h0.75M99.3 80.0h0.75M97.9 78.0h0.75M92.5 79.7h0.75M97.6 78.0h0.75M96.9 80.4h0.75M98.8 81.6h0.75M96.6 81.6h0.75M100.4 81.8h0.75M95.1 87.0h0.75M95.4 83.7h0.75M93.1 81.9h0.75M88.7 80.9h0.75M93.3 77.5h0.75M91.1 84.1h0.75M96.4 78.0h0.75M100.4 80.9h0.75M94.1 82.3h0.75M91.9 76.9h0.75M93.0 84.5h0.75M97.9 78.1h0.75M98.7 82.5h0.75M96.6 82.2h0.75M96.4 79.4h0.75M92.6 79.5h0.75M94.1 83.2h0.75M91.7 85.4h0.75M93.4 79.9h0.75M97.2 83.3h0.75M94.2 78.8h0.75M92.3 77.0h0.75M98.5 85.3h0.75M100.6 84.1h0.75M96.2 84.0h0.75M97.9 81.6h0.75M96.2 87.7h0.75M90.3 77.2h0.75M92.4 83.3h0.75M98.6 81.5h0.75M97.1 82.0h0.75M96.1 80.5h0.75M95.1 81.8h0.75M98.5 88.3h0.75M90.0 82.2h0.75M95.2 84.4h0.75M98.3 84.4h0.75M97.5 79.7h0.75M90.3 85.3h0.75M98.7 79.9h0.75M98.9 84.3h0.75M88.1 82.9h0.75M92.3 84.3h0.75M93.2 79.5h0.75M90.7 80.4h0.75M98.1 80.6h0.75M89.8 86.5h0.75M100.5 84.6h0.75M93.6 78.3h0.75M90.5 82.4h0.75M99.0 79.7h0.75M95.2 81.1h0.75M94.5 83.0h0.75M101.2 81.2h0.75M97.7 85.1h0.75M94.4 81.3h0.75M91.3 83.9h0.75M93.7 79.8h0.75M95.4 79.6h0.75M92.2 80.4h0.75M99.5 82.1h0.75M96.7 78.2h0.75M89.6 85.6h0.75M94.0 77.5h0.75M94.9 83.3h0.75M90.2 78.5h0.75M96.0 79.5h0.75M97.5 84.8h0.75M96.5 80.9h0.75M95.1 80.1h0.75M94.8 82.6h0.75M94.3 84.2h0.75M102.7 81.8h0.75M96.2 84.2h0.75M97.1 81.5h0.75M93.8 84.2h0.75M97.0 83.5h0.75M92.9 83.0h0.75M97.5 81.7h0.75M97.1 87.9h0.75M89.8 82.4h0.75M91.8 77.6h0.75M94.5 83.1h0.75M95.4 78.7h0.75M91.0 79.5h0.75M95.2 79.6h0.75M90.8 85.6h0.75M92.8 80.9h0.75M93.6 80.0h0.75M95.3 81.0h0.75M97.0 79.0h0.75M90.9 86.2h0.75M95.0 83.8h0.75M98.6 83.9h0.75M95.3 77.7h0.75M90.6 83.5h0.75M97.2 83.7h0.75M90.4 75.2h0.75M92.1 78.1h0.75M95.7 79.2h0.75M99.8 81.0h0.75M93.6 83.8h0.75M96.2 79.6h0.75M97.6 87.4h0.75M91.6 80.5h0.75M92.1 76.0h0.75M97.0 84.0h0.75M98.0 83.5h0.75M89.3 80.6h0.75M93.3 78.3h0.75M92.0 83.2h0.75M94.3 86.9h0.75M96.6 77.0h0.75M97.8 85.6h0.75M95.3 78.6h0.75M100.4 79.3h0.75M95.0 76.7h0.75M91.5 76.6h0.75M98.4 85.5h0.75M94.0 78.0h0.75M95.0 82.8h0.75M90.7 77.9h0.75M94.9 83.6h0.75M95.4 83.0h0.75M91.6 74.5h0.75M96.1 79.5h0.75M94.8 80.7h0.75M96.6 80.0h0.75M99.4 82.7h0.75M96.7 83.8h0.75M98.2 83.4h0.75M90.1 79.2h0.75M100.7 84.1h0.75M96.8 83.4h0.75M93.3 79.6h0.75M93.3 84.6h0.75M96.3 86.8h0.75M96.7 87.1h0.75M96.5 78.9h0.75M100.3 83.7h0.75M98.7 83.0h0.75M94.2 82.1h0.75M91.9 78.0h0.75M92.6 79.9h0.75M91.2 80.8h0.75M96.1 87.4h0.75M100.6 82.7h0.75M97.8 81.7h0.75M96.4 81.9h0.75M93.6 81.7h0.75M90.8 82.2h0.75M94.3 78.7h0.75M94.1 83.1h0.75M93.2 82.7h0.75M96.9 86.3h0.75M92.0 80.9h0.75M96.7 86.1h0.75M96.0 84.0h0.75M90.9 79.4h0.75M100.1 81.9h0.75M101.6 81.0h0.75M94.4 77.3h0.75M97.1 82.9h0.75M101.2 83.4h0.75M94.5 77.9h0.75M95.0 84.3h0.75M97.4 85.5h0.75M97.8 82.2h0.75M97.0 82.6h0.75M91.3 85.7h0.75M96.3 79.2h0.75M96.3 82.8h0.75M98.2 86.3h0.75M86.2 81.6h0.75M99.7 80.1h0.75M89.7 81.5h0.75M96.2 82.9h0.75M91.9 79.9h0.75M95.8 83.9h0.75M101.7 83.8h0.75M93.4 75.1h0.75M98.4 82.0h0.75M94.9 79.1h0.75M97.4 77.3h0.75M95.5 82.2h0.75M96.1 85.5h0.75M94.9 82.0h0.75M97.7 78.1h0.75M94.3 81.8h0.75M98.0 80.2h0.75M97.6 83.3h0.75M90.8 76.9h0.75M90.9 81.4h0.75M95.8 83.9h0.75M97.6 80.8h0.75M98.4 84.6h0.75M96.6 83.4h0.75M91.4 82.1h0.75M92.1 78.0h0.75M94.2 82.0h0.75M95.0 80.9h0.75M92.2 81.8h0.75M93.0 77.5h0.75M95.5 85.8h0.75M94.0 78.7h0.75M99.3 87.2h0.75M94.3 81.1h0.75M95.8 90.0h0.75M95.6 84.6h0.75M96.5 77.1h0.75M91.9 77.8h0.75M96.5 82.3h0.75M100.5 82.1h0.75M96.1 82.2h0.75M95.6 88.2h0.75M96.1 86.0h0.75M99.1 80.9h0.75M97.2 81.1h0.75M95.5 82.3h0.75M95.3 80.5h0.75M99.9 81.9h0.75M97.3 86.8h0.75M97.1 85.0h0.75M99.4 85.6h0.75M100.3 78.9h0.75M101.1 83.0h0.75M90.0 79.1h0.75M91.0 81.0h0.75M90.7 78.2h0.75M96.1 82.4h0.75M92.8 80.7h0.75M94.9 81.9h0.75M95.2 81.2h0.75M97.8 77.9h0.75M93.7 81.9h0.75M94.0 80.1h0.75M93.9 82.1h0.75M98.9 82.0h0.75M94.4 82.6h0.75M94.5 76.4h0.75M96.0 80.9h0.75M93.5 83.2h0.75M95.3 80.3h0.75M88.7 75.9h0.75M95.2 81.5h0.75M96.5 82.7h0.75M93.8 78.1h0.75M91.9 80.8h0.75M91.8 83.2h0.75M91.2 76.1h0.75M94.6 76.8h0.75M100.1 80.0h0.75M95.0 81.1h0.75M92.7 76.5h0.75M89.6 83.1h0.75M98.3 88.3h0.75M90.8 82.5h0.75M95.2 84.1h0.75M93.7 83.5h0.75M97.9 84.0h0.75M99.5 82.1h0.75M99.8 80.7h0.75M100.2 75.2h0.75M95.2 79.6h0.75M95.2 84.6h0.75M97.4 82.5h0.75M100.3 78.7h0.75M92.8 85.5h0.75M96.2 76.3h0.75M96.2 78.7h0.75M99.6 85.8h0.75M93.6 85.0h0.75M92.7 83.9h0.75M96.9 81.8h0.75M90.9 80.2h0.75M88.3 79.0h0.75M89.6 84.1h0.75M92.3 74.6h0.75M97.0 83.1h0.75M93.7 87.3h0.75M97.5 82.4h0.75M93.3 73.3h0.75M96.6 84.7h0.75M93.4 77.6h0.75M95.1 77.2h0.75M95.2 83.9h0.75M99.7 83.4h0.75M95.8 84.0h0.75M99.4 81.7h0.75M91.5 78.9h0.75M91.4 78.7h0.75M94.8 82.7h0.75M95.7 82.1h0.75M94.1 82.8h0.75M97.9 84.4h0.75M99.7 81.8h0.75M94.4 86.3h0.75M95.8 83.0h0.75M94.2 84.3h0.75M94.0 78.8h0.75M95.0 80.6h0.75M97.7 81.2h0.75M95.6 81.3h0.75M96.2 80.3h0.75M98.5 78.5h0.75M94.0 79.6h0.75M97.1 82.3h0.75M96.7 81.2h0.75M93.0 78.3h0.75M94.2 80.1h0.75M96.0 82.9h0.75M98.1 82.1h0.75M93.0 78.5h0.75M95.4 82.8h0.75M101.0 83.4h0.75M100.5 87.9h0.75M92.1 84.5h0.75M98.6 86.1h0.75M95.2 84.4h0.75M93.8 81.3h0.75M95.3 86.7h0.75M94.6 84.3h0.75M95.4 79.9h0.75M95.9 83.7h0.75M93.1 83.1h0.75M93.1 79.0h0.75M95.9 81.3h0.75M92.3 76.8h0.75M95.3 82.5h0.75M93.8 82.1h0.75M90.6 82.0h0.75M96.4 82.8h0.75M93.4 81.7h0.75M95.6 84.8h0.75M96.0 82.7h0.75M93.0 83.8h0.75M98.7 81.1h0.75M97.1 83.0h0.75M95.1 78.2h0.75M100.5 77.7h0.75M96.1 80.9h0.75M98.6 81.3h0.75M95.3 83.5h0.75M96.6 80.6h0.75M97.2 83.3h0.75M98.2 81.0h0.75M95.1 80.7h0.75M92.7 82.0h0.75M96.4 85.9h0.75M94.2 82.7h0.75M98.6 82.1h0.75M95.4 82.2h0.75M93.1 78.7h0.75M98.5 82.9h0.75M95.0 78.4h0.75M95.6 85.1h0.75M91.8 78.7h0.75M98.5 86.3h0.75M99.8 81.2h0.75M97.0 80.1h0.75M96.8 81.1h0.75M95.8 85.6h0.75M96.2 81.3h0.75M95.4 82.6h0.75M93.7 82.1h0.75M97.0 86.4h0.75M89.0 77.4h0.75M91.5 83.5h0.75M102.5 83.7h0.75M95.6 85.0h0.75M87.9 80.0h0.75M85.9 80.5h0.75M93.7 80.2h0.75M96.2 80.4h0.75M98.5 82.4h0.75M96.3 88.9h0.75M93.9 84.1h0.75M92.7 84.7h0.75M98.1 82.7h0.75M98.2 86.7h0.75M99.3 82.6h0.75M95.0 84.8h0.75M90.8 79.3h0.75M96.6 83.6h0.75M100.7 87.6h0.75M96.2 83.2h0.75M91.3 80.6h0.75M96.0 81.3h0.75M95.4 83.5h0.75M92.4 79.7h0.75M89.9 83.9h0.75M92.1 76.6h0.75M97.5 81.6h0.75M98.1 81.3h0.75M101.5 84.9h0.75M95.6 82.2h0.75M94.6 83.9h0.75M101.1 81.8h0.75M92.0 82.8h0.75M98.4 78.3h0.75M93.1 78.7h0.75M96.9 83.5h0.75M93.0 78.3h0.75M97.2 76.6h0.75M97.1 81.7h0.75M100.9 85.6h0.75M93.5 80.7h0.75M94.4 79.7h0.75M95.4 84.5h0.75M90.7 80.4h0.75M99.6 84.6h0.75M92.8 79.2h0.75M92.7 77.0h0.75M98.6 82.6h0.75M93.1 77.5h0.75M94.1 80.2h0.75M100.3 81.5h0.75M95.5 84.8h0.75M97.2 81.7h0.75M88.8 84.4h0.75M97.0 81.0h0.75M94.9 79.2h0.75M94.5 81.4h0.75M92.2 82.5h0.75M94.7 78.9h0.75M84.9 79.1h0.75M99.2 83.6h0.75M99.6 76.5h0.75M84.3 83.2h0.75M87.0 77.4h0.75M89.7 76.8h0.75M89.1 72.9h0.75M78.7 85.8h0.75M84.8 67.8h0.75M95.0 88.9h0.75M89.3 81.4h0.75M95.1 70.1h0.75M99.4 68.5h0.75M87.1 73.5h0.75M99.6 80.4h0.75M90.1 71.5h0.75M91.6 77.5h0.75M96.0 87.6h0.75M96.1 78.6h0.75M90.0 87.2h0.75M92.4 77.3h0.75M103.3 91.0h0.75M94.9 77.5h0.75M86.7 82.7h0.75M87.9 82.3h0.75M85.6 76.1h0.75M93.8 78.8h0.75M92.6 80.0h0.75M83.3 67.4h0.75M90.0 88.5h0.75M90.1 70.7h0.75M86.5 75.9h0.75M99.1 75.7h0.75M94.8 79.4h0.75M88.6 70.1h0.75M90.0 72.0h0.75M94.7 66.6h0.75M98.7 84.3h0.75M95.0 88.0h0.75M95.1 67.1h0.75M91.4 80.0h0.75M86.3 68.2h0.75M94.0 81.2h0.75M88.1 74.5h0.75M87.5 72.3h0.75M90.6 83.9h0.75M80.0 71.5h0.75M102.0 82.4h0.75M92.1 82.8h0.75M84.1 67.1h0.75M92.7 83.0h0.75M88.2 71.7h0.75M93.8 81.8h0.75M92.7 72.0h0.75M86.5 85.4h0.75M100.0 82.8h0.75M92.9 78.7h0.75M87.0 75.5h0.75M104.0 75.2h0.75M86.5 76.7h0.75M97.1 84.2h0.75M84.4 74.2h0.75M89.2 68.4h0.75M91.5 74.0h0.75M97.3 81.7h0.75M85.7 75.9h0.75M88.6 72.1h0.75M87.7 82.9h0.75M85.7 80.7h0.75M105.7 74.6h0.75M88.6 74.1h0.75M81.4 76.7h0.75M90.7 78.7h0.75M106.2 79.8h0.75M96.4 84.0h0.75M86.7 71.9h0.75M101.6 84.8h0.75M92.0 70.2h0.75M97.0 82.2h0.75M106.0 91.1h0.75M96.5 80.4h0.75M91.4 73.6h0.75M93.1 79.2h0.75M95.4 85.4h0.75M93.1 74.1h0.75M96.5 88.7h0.75M85.3 78.0h0.75M94.7 81.6h0.75M94.4 77.4h0.75M90.3 87.7h0.75M102.8 71.4h0.75M86.4 72.3h0.75M80.2 76.0h0.75M90.6 73.4h0.75M97.1 94.6h0.75M101.0 87.6h0.75M88.2 80.4h0.75M90.7 84.4h0.75M95.0 78.0h0.75M94.8 73.5h0.75M96.4 88.4h0.75M88.5 79.9h0.75M79.7 79.7h0.75M97.0 72.2h0.75M102.9 81.3h0.75M96.9 77.0h0.75M98.5 69.2h0.75M90.3 83.1h0.75M86.4 80.0h0.75M88.6 78.5h0.75M93.2 92.1h0.75M82.6 79.5h0.75M99.9 72.4h0.75M91.6 92.2h0.75M93.1 72.9h0.75M87.2 70.4h0.75M93.0 74.6h0.75M84.9 73.7h0.75M93.8 72.3h0.75M98.6 68.5h0.75M93.8 75.3h0.75M101.7 76.0h0.75M86.5 66.9h0.75M104.5 85.1h0.75M83.6 72.6h0.75M84.5 84.9h0.75M92.4 83.4h0.75M91.0 80.1h0.75M90.3 78.1h0.75M92.4 72.8h0.75M93.4 78.8h0.75M90.7 72.5h0.75M84.1 76.5h0.75M87.4 84.7h0.75M97.2 74.2h0.75M100.2 73.4h0.75M85.6 88.0h0.75M88.0 74.7h0.75M79.8 67.1h0.75M83.0 73.7h0.75M78.5 80.2h0.75M88.6 72.3h0.75M86.7 80.5h0.75M101.4 77.5h0.75M102.0 90.8h0.75M100.1 81.7h0.75M80.9 78.3h0.75M88.2 77.4h0.75M78.2 71.3h0.75M92.6 71.4h0.75M93.0 88.5h0.75M92.6 73.0h0.75M107.2 67.9h0.75M84.7 77.8h0.75M92.8 82.9h0.75M85.6 84.9h0.75M94.4 85.8h0.75M80.6 73.9h0.75M101.9 93.4h0.75M100.0 79.7h0.75M92.2 73.3h0.75M98.5 74.7h0.75M80.7 85.5h0.75M91.4 78.5h0.75M76.0 72.3h0.75M105.1 71.5h0.75M87.4 74.5h0.75M82.4 65.6h0.75M82.6 78.6h0.75M90.7 82.3h0.75M83.6 78.6h0.75M88.0 76.7h0.75M97.4 79.1h0.75M91.4 82.2h0.75M86.7 75.3h0.75M93.8 86.3h0.75M88.4 66.0h0.75M89.1 89.1h0.75M93.1 76.6h0.75M98.1 76.6h0.75M93.3 79.0h0.75M94.1 68.3h0.75M95.9 84.2h0.75M84.9 84.9h0.75M91.1 81.5h0.75M94.8 84.0h0.75M86.6 71.8h0.75M93.6 81.8h0.75M94.9 80.4h0.75M87.7 83.2h0.75M94.2 85.0h0.75M86.4 76.4h0.75M87.7 74.0h0.75M92.3 79.7h0.75M85.6 78.9h0.75M85.2 78.1h0.75M88.5 70.0h0.75M99.1 90.3h0.75M90.3 76.5h0.75M97.6 70.2h0.75M85.0 82.7h0.75M97.2 75.6h0.75M85.6 77.7h0.75M81.3 70.8h0.75M95.1 83.3h0.75M98.4 69.7h0.75M82.1 69.0h0.75M82.0 87.9h0.75M84.2 72.9h0.75M92.4 80.4h0.75M101.1 72.8h0.75M97.1 79.8h0.75M82.9 75.6h0.75M81.3 84.8h0.75M85.9 82.1h0.75M100.0 75.6h0.75M84.8 76.0h0.75M83.7 80.8h0.75M92.2 72.3h0.75M86.2 80.4h0.75M80.9 85.2h0.75M85.5 74.1h0.75M84.6 85.8h0.75M96.7 87.4h0.75M95.5 79.0h0.75M102.8 85.0h0.75M94.0 81.7h0.75M96.1 80.4h0.75M89.8 66.1h0.75M105.3 72.7h0.75M76.0 67.8h0.75M104.5 89.2h0.75M86.8 77.5h0.75M112.9 92.1h0.75M94.8 68.4h0.75M119.1 88.9h0.75M105.3 95.8h0.75M77.4 67.2h0.75M81.7 66.2h0.75M110.9 85.0h0.75M81.1 70.5h0.75M84.5 84.4h0.75M109.1 95.6h0.75M93.5 95.8h0.75M97.2 77.6h0.75M88.2 72.7h0.75M124.2 96.3h0.75M110.8 70.9h0.75M84.5 70.2h0.75M93.1 88.4h0.75M78.4 81.9h0.75M109.5 66.5h0.75M97.5 90.0h0.75M104.3 79.5h0.75M119.6 84.1h0.75M92.3 77.8h0.75M122.7 92.1h0.75M121.2 82.9h0.75M82.6 70.9h0.75M94.7 86.9h0.75M75.7 90.4h0.75M114.8 81.5h0.75M75.8 90.2h0.75M96.2 86.2h0.75M104.0 88.1h0.75M95.9 95.3h0.75M123.3 94.3h0.75M106.3 75.3h0.75M94.3 73.8h0.75M120.7 90.1h0.75M114.9 91.0h0.75M125.0 86.8h0.75M91.4 89.0h0.75M88.6 84.4h0.75M83.4 92.1h0.75M99.9 74.0h0.75M121.6 68.1h0.75M122.0 89.0h0.75M83.0 89.1h0.75M104.2 93.6h0.75M104.8 78.7h0.75M122.2 68.2h0.75M114.4 68.7h0.75M89.3 69.0h0.75M119.1 79.2h0.75M111.8 73.5h0.75M112.0 85.6h0.75M80.4 80.8h0.75M83.3 81.9h0.75M81.3 82.0h0.75M103.7 78.6h0.75M77.0 89.5h0.75M87.6 76.6h0.75M81.0 86.5h0.75M84.0 82.6h0.75M83.1 84.2h0.75M91.5 85.4h0.75M83.8 82.8h0.75M80.2 81.6h0.75M90.7 87.4h0.75M94.0 92.1h0.75M85.2 85.0h0.75M77.4 87.5h0.75M82.1 76.5h0.75M85.3 89.0h0.75M85.2 83.2h0.75M86.8 92.5h0.75M82.1 89.1h0.75M90.2 83.1h0.75M85.0 81.6h0.75M87.6 83.8h0.75M90.9 81.4h0.75M94.1 84.1h0.75M79.0 80.6h0.75M88.0 80.9h0.75M94.8 93.7h0.75M87.1 77.5h0.75M83.9 81.6h0.75M97.2 82.8h0.75M88.9 93.7h0.75M78.2 84.0h0.75M85.6 88.8h0.75M77.1 87.3h0.75M83.4 91.7h0.75M81.0 84.1h0.75M88.3 82.2h0.75M100.4 81.8h0.75M89.0 92.1h0.75M89.8 84.8h0.75M79.0 84.5h0.75M88.0 86.7h0.75" stroke="#000" stroke-width="0.75" fill="none"/>
<path d="M158.3 60.4h0.75M154.3 55.4h0.75M160.6 56.9h0.75M152.4 64.6h0.75M154.4 55.4h0.75M159.3 54.8h0.75M154.3 62.0h0.75M154.5 66.8h0.75M157.0 67.4h0.75M157.0 58.7h0.75M155.0 57.8h0.75M155.3 58.4h0.75M158.8 54.3h0.75M154.2 51.6h0.75M160.8 58.3h0.75M156.7 58.3h0.75M159.4 59.6h0.75M159.0 57.9h0.75M156.4 58.3h0.75M151.7 62.1h0.75M152.4 55.2h0.75M158.5 58.7h0.75M158.9 64.1h0.75M161.7 63.1h0.75M156.1 65.3h0.75M154.3 58.2h0.75M159.4 57.8h0.75M156.4 57.3h0.75M160.4 50.4h0.75M160.1 62.0h0.75M156.5 60.4h0.75M154.1 62.2h0.75M165.0 55.5h0.75M160.5 58.3h0.75M155.8 56.9h0.75M156.2 54.4h0.75M153.0 64.0h0.75M156.7 60.3h0.75M157.5 60.1h0.75M152.6 55.4h0.75M158.4 61.8h0.75M153.6 56.6h0.75M153.8 60.7h0.75M157.6 58.6h0.75M154.9 59.6h0.75M156.8 56.0h0.75M157.6 56.3h0.75M159.3 60.6h0.75M154.8 60.4h0.75M156.9 56.2h0.75M154.2 53.0h0.75M153.6 59.6h0.75M160.0 56.4h0.75M157.1 59.6h0.75M158.8 60.0h0.75M160.0 61.0h0.75M154.6 59.8h0.75M150.4 57.9h0.75M156.8 60.4h0.75M155.9 61.2h0.75M160.3 55.7h0.75M155.2 59.4h0.75M158.0 59.0h0.75M158.9 54.6h0.75M158.8 62.3h0.75M159.7 59.9h0.75M156.1 59.8h0.75M156.5 53.3h0.75M155.1 58.4h0.75M155.3 55.4h0.75M156.1 57.3h0.75M156.9 58.3h0.75M157.2 61.8h0.75M157.1 59.8h0.75M153.4 48.8h0.75M155.6 60.7h0.75M155.8 56.4h0.75M153.4 61.4h0.75M155.3 59.3h0.75M159.8 60.3h0.75M162.8 58.1h0.75M159.3 60.8h0.75M154.9 58.7h0.75M155.2 55.1h0.75M157.5 55.9h0.75M161.2 56.1h0.75M155.2 58.8h0.75M155.3 58.7h0.75M155.1 53.8h0.75M150.2 54.2h0.75M160.8 60.0h0.75M157.1 57.0h0.75M156.3 59.5h0.75M152.9 55.9h0.75M154.3 62.7h0.75M153.8 62.4h0.75M155.4 67.5h0.75M156.5 58.6h0.75M160.3 61.4h0.75M159.2 55.0h0.75M159.8 64.0h0.75M156.4 56.9h0.75M153.8 61.9h0.75M157.5 58.5h0.75M153.4 63.8h0.75M159.1 58.4h0.75M160.7 55.4h0.75M159.1 55.2h0.75M160.5 57.6h0.75M160.0 57.1h0.75M157.8 62.3h0.75M154.3 58.8h0.75M154.4 61.3h0.75M155.1 57.3h0.75M156.2 62.3h0.75M153.9 58.4h0.75M155.8 56.7h0.75M154.6 58.0h0.75M157.2 53.4h0.75M157.3 54.6h0.75M156.7 66.0h0.75M154.1 58.3h0.75M156.0 61.7h0.75M155.4 52.6h0.75M152.4 59.1h0.75M157.4 62.0h0.75M155.3 60.7h0.75M153.8 62.8h0.75M156.5 56.3h0.75M157.2 64.3h0.75M154.4 54.4h0.75M154.0 54.7h0.75M156.6 59.7h0.75M156.3 59.2h0.75M159.9 57.5h0.75M153.3 51.0h0.75M157.4 56.3h0.75M156.0 59.9h0.75M157.9 53.3h0.75M154.1 58.7h0.75M156.3 62.3h0.75M155.3 51.7h0.75M159.9 53.1h0.75M154.1 59.8h0.75M153.8 66.7h0.75M157.3 60.3h0.75M155.5 65.8h0.75M158.2 56.1h0.75M160.1 52.9h0.75M155.1 59.5h0.75M157.1 55.3h0.75M161.0 63.4h0.75M154.2 59.7h0.75M155.0 57.1h0.75M159.4 58.9h0.75M156.4 58.8h0.75M153.5 62.5h0.75M154.7 62.8h0.75M155.5 57.0h0.75M160.7 59.1h0.75M155.0 56.7h0.75M158.3 64.7h0.75M158.4 57.2h0.75M153.7 56.3h0.75M156.4 59.3h0.75M154.9 62.7h0.75M154.1 56.1h0.75M158.0 60.1h0.75M155.6 61.7h0.75M152.9 63.9h0.75M162.6 64.9h0.75M157.0 65.0h0.75M156.8 62.9h0.75M156.2 59.1h0.75M158.1 52.7h0.75M156.1 64.2h0.75M148.8 59.8h0.75M159.2 59.6h0.75M157.2 63.1h0.75M157.6 52.3h0.75M154.2 57.5h0.75M157.1 57.0h0.75M156.4 64.0h0.75M148.8 62.3h0.75M159.2 60.5h0.75M156.7 58.7h0.75M157.7 59.3h0.75M154.7 61.1h0.75M154.5 58.4h0.75M155.7 54.7h0.75M158.3 58.3h0.75M153.6 58.2h0.75M153.0 63.2h0.75M158.1 65.0h0.75M155.2 60.8h0.75M154.1 55.7h0.75M156.5 59.9h0.75M159.2 57.6h0.75M159.7 61.7h0.75M154.3 57.9h0.75M154.2 64.1h0.75M155.2 61.4h0.75M159.2 57.7h0.75M155.4 59.6h0.75M154.6 54.3h0.75M154.1 59.6h0.75M157.2 64.3h0.75M151.8 60.2h0.75M153.6 62.3h0.75M158.6 58.9h0.75M160.7 57.3h0.75M155.3 55.0h0.75M154.9 58.9h0.75M158.5 62.7h0.75M156.0 56.1h0.75M155.8 57.1h0.75M155.4 57.2h0.75M154.4 58.3h0.75M155.3 57.9h0.75M153.0 59.0h0.75M158.2 60.6h0.75M155.2 54.8h0.75M153.2 54.7h0.75M155.0 57.5h0.75M151.9 60.7h0.75M152.6 56.3h0.75M154.8 61.2h0.75M161.6 57.3h0.75M156.0 57.2h0.75M156.2 57.9h0.75M163.3 54.9h0.75M156.4 55.9h0.75M157.7 56.8h0.75M158.2 55.0h0.75M162.3 59.2h0.75M152.0 60.8h0.75M155.4 54.7h0.75M157.9 56.8h0.75M158.7 56.7h0.75M159.1 59.0h0.75M157.7 59.0h0.75M155.7 57.3h0.75M157.9 60.8h0.75M155.6 65.8h0.75M161.2 54.8h0.75M159.6 58.3h0.75M157.3 55.9h0.75M161.1 55.8h0.75M156.5 56.1h0.75M161.9 62.6h0.75M153.2 57.0h0.75M157.7 57.1h0.75M155.8 55.0h0.75M157.4 55.0h0.75M158.9 66.3h0.75M155.8 63.9h0.75M157.7 56.3h0.75M155.8 55.4h0.75M157.0 60.8h0.75M159.2 57.6h0.75M153.5 58.3h0.75M161.2 59.4h0.75M156.5 51.8h0.75M155.5 60.3h0.75M154.2 62.9h0.75M155.2 55.7h0.75M155.2 58.2h0.75M159.4 56.7h0.75M152.0 58.3h0.75M158.1 63.5h0.75M153.7 63.3h0.75M158.5 60.0h0.75M154.7 55.6h0.75M154.2 61.5h0.75M157.3 62.0h0.75M161.5 58.6h0.75M156.6 64.7h0.75M153.2 57.1h0.75M155.7 57.3h0.75M157.1 55.8h0.75M159.8 54.1h0.75M154.5 53.0h0.75M153.0 60.4h0.75M158.4 57.9h0.75M158.9 60.5h0.75M155.2 58.4h0.75M157.7 65.0h0.75M155.5 59.7h0.75M158.1 62.5h0.75M157.8 62.0h0.75M153.9 57.7h0.75M151.6 58.4h0.75M162.9 59.3h0.75M156.9 59.4h0.75M157.1 54.2h0.75M154.9 58.0h0.75M157.1 55.7h0.75M156.4 56.1h0.75M153.2 56.4h0.75M154.6 61.2h0.75M160.3 60.4h0.75M156.1 56.7h0.75M152.5 56.8h0.75M160.9 62.2h0.75M157.3 57.7h0.75M156.7 59.9h0.75M156.7 59.9h0.75M154.7 58.7h0.75M155.8 62.0h0.75M153.4 62.7h0.75M156.5 56.9h0.75M156.8 58.9h0.75M156.1 59.9h0.75M155.2 53.1h0.75M158.5 58.4h0.75M161.1 59.8h0.75M151.4 62.5h0.75M154.9 60.3h0.75M162.6 62.0h0.75M153.8 58.2h0.75M152.4 60.7h0.75M158.2 55.2h0.75M157.9 61.5h0.75M158.8 56.4h0.75M154.9 54.9h0.75M153.3 59.5h0.75M156.8 62.7h0.75M157.4 57.5h0.75M152.9 63.5h0.75M157.1 58.4h0.75M154.0 55.2h0.75M158.4 55.4h0.75M158.3 60.5h0.75M155.7 53.3h0.75M157.8 63.0h0.75M154.5 54.5h0.75M159.6 59.0h0.75M155.0 62.5h0.75M156.0 60.0h0.75M155.6 56.1h0.75M157.3 55.8h0.75M152.0 56.8h0.75M160.0 62.1h0.75M162.5 61.7h0.75M161.0 59.3h0.75M155.5 60.0h0.75M154.2 60.9h0.75M155.5 59.4h0.75M154.4 58.1h0.75M159.3 57.8h0.75M154.9 59.4h0.75M159.0 57.9h0.75M153.6 53.5h0.75M153.2 61.9h0.75M156.5 60.1h0.75M159.5 59.4h0.75M158.0 56.9h0.75M152.4 60.5h0.75M156.4 60.4h0.75M153.9 58.1h0.75M162.0 55.8h0.75M157.0 62.7h0.75M156.1 58.9h0.75M151.1 61.0h0.75M155.5 62.6h0.75M156.5 57.3h0.75M157.9 57.8h0.75M155.3 63.5h0.75M159.3 58.9h0.75M158.8 61.2h0.75M158.2 58.7h0.75M156.9 59.8h0.75M158.2 59.7h0.75M155.2 58.3h0.75M157.9 55.4h0.75M156.7 61.0h0.75M157.1 57.6h0.75M156.6 57.0h0.75M159.3 57.3h0.75M152.3 54.7h0.75M157.5 59.2h0.75M155.5 54.4h0.75M156.3 55.9h0.75M155.0 58.5h0.75M154.7 59.5h0.75M154.7 57.1h0.75M156.1 63.2h0.75M160.9 61.5h0.75M154.8 58.6h0.75M159.1 61.1h0.75M152.4 58.4h0.75M154.7 60.9h0.75M158.4 56.9h0.75M162.4 57.7h0.75M163.2 58.0h0.75M156.5 64.5h0.75M155.3 57.1h0.75M160.6 58.4h0.75M158.0 54.6h0.75M161.4 61.7h0.75M157.6 60.8h0.75M155.4 57.1h0.75M152.5 59.7h0.75M160.0 61.3h0.75M159.1 60.8h0.75M154.3 54.4h0.75M158.4 59.1h0.75M159.3 57.7h0.75M154.4 60.0h0.75M155.2 53.4h0.75M155.1 55.8h0.75M153.8 56.8h0.75M159.2 66.0h0.75M161.3 57.2h0.75M159.7 58.3h0.75M157.8 56.4h0.75M156.5 53.3h0.75M161.4 56.1h0.75M158.2 56.7h0.75M157.4 54.9h0.75M155.7 61.4h0.75M158.3 52.4h0.75M159.0 54.4h0.75M157.5 60.2h0.75M155.0 57.6h0.75M156.1 59.8h0.75M159.1 62.8h0.75M157.6 64.8h0.75M154.2 64.1h0.75M156.0 61.0h0.75M156.4 58.8h0.75M154.3 59.8h0.75M162.1 59.0h0.75M156.6 58.6h0.75M158.6 57.9h0.75M156.7 59.2h0.75M160.1 61.5h0.75M153.9 56.6h0.75M156.8 61.2h0.75M159.3 57.9h0.75M162.3 58.0h0.75M160.4 63.0h0.75M160.9 59.2h0.75M158.2 53.8h0.75M152.0 56.6h0.75M158.6 61.9h0.75M156.4 61.8h0.75M158.2 63.3h0.75M152.5 56.0h0.75M154.2 55.3h0.75M161.1 55.7h0.75M154.5 57.3h0.75M159.0 57.1h0.75M158.6 60.3h0.75M155.0 51.1h0.75M154.3 54.6h0.75M161.0 56.3h0.75M153.9 59.7h0.75M156.8 55.6h0.75M159.6 61.4h0.75M157.4 56.2h0.75M154.4 52.1h0.75M157.7 59.8h0.75M154.3 58.6h0.75M165.4 55.0h0.75M152.2 60.5h0.75M155.6 57.0h0.75M158.3 58.1h0.75M159.3 60.2h0.75M159.8 58.9h0.75M151.0 62.8h0.75M152.2 61.8h0.75M157.4 54.2h0.75M156.9 61.3h0.75M154.0 58.7h0.75M154.7 55.4h0.75M155.1 62.5h0.75M158.5 58.5h0.75M156.5 58.9h0.75M157.5 59.1h0.75M152.2 61.4h0.75M154.4 50.4h0.75M158.6 54.8h0.75M156.3 58.2h0.75M155.1 60.2h0.75M156.0 57.7h0.75M154.2 57.7h0.75M154.0 58.7h0.75M160.2 61.7h0.75M157.8 54.3h0.75M159.4 61.5h0.75M162.2 51.5h0.75M156.7 57.5h0.75M159.6 55.1h0.75M155.7 65.8h0.75M159.3 52.3h0.75M156.8 62.8h0.75M155.1 60.4h0.75M157.0 53.9h0.75M155.0 62.1h0.75M159.8 56.6h0.75M159.7 56.3h0.75M157.4 58.5h0.75M153.4 59.5h0.75M155.7 49.9h0.75M154.5 55.9h0.75M154.5 55.5h0.75M154.9 50.8h0.75M159.1 58.8h0.75M157.4 57.7h0.75M156.9 57.7h0.75M153.8 53.7h0.75M156.9 61.7h0.75M157.3 63.6h0.75M153.1 57.7h0.75M155.1 62.4h0.75M161.2 56.9h0.75M158.6 57.8h0.75M154.0 58.2h0.75M153.9 63.4h0.75M158.3 62.3h0.75M157.7 50.9h0.75M158.8 58.8h0.75M150.4 58.8h0.75M159.4 63.9h0.75M154.0 61.0h0.75M157.6 58.0h0.75M155.9 60.2h0.75M158.2 60.6h0.75M155.6 54.4h0.75M160.2 62.6h0.75M155.2 58.4h0.75M158.8 53.0h0.75M158.0 66.1h0.75M157.4 56.3h0.75M162.1 58.5h0.75M157.3 57.2h0.75M157.2 52.8h0.75M153.3 53.9h0.75M159.1 58.2h0.75M159.8 52.1h0.75M155.1 63.1h0.75M154.6 52.6h0.75M154.7 57.4h0.75M156.7 62.6h0.75M160.2 63.4h0.75M158.2 56.9h0.75M155.4 53.8h0.75M160.1 62.5h0.75M156.9 55.7h0.75M158.5 60.1h0.75M157.1 54.8h0.75M157.3 56.7h0.75M158.7 60.4h0.75M157.9 57.2h0.75M160.7 61.0h0.75M160.1 61.2h0.75M158.5 59.7h0.75M153.9 52.8h0.75M154.2 60.4h0.75M159.1 59.1h0.75M156.9 64.3h0.75M155.6 52.9h0.75M152.6 57.5h0.75M158.6 60.8h0.75M156.1 61.1h0.75M156.6 56.2h0.75M155.7 60.9h0.75M159.2 54.9h0.75M154.1 58.9h0.75M162.3 54.8h0.75M153.4 59.8h0.75M158.0 56.6h0.75M156.6 60.0h0.75M152.1 58.4h0.75M158.3 61.4h0.75M159.8 58.3h0.75M152.9 62.8h0.75M158.7 56.5h0.75M159.4 61.8h0.75M156.3 51.0h0.75M155.5 56.1h0.75M154.5 58.2h0.75M153.8 59.7h0.75M161.7 54.7h0.75M159.5 56.8h0.75M158.1 58.1h0.75M160.1 56.3h0.75M158.6 56.1h0.75M157.3 58.5h0.75M159.6 53.5h0.75M153.1 62.9h0.75M157.7 63.9h0.75M154.0 59.2h0.75M158.3 64.1h0.75M156.6 57.1h0.75M158.6 58.2h0.75M154.7 60.9h0.75M151.7 55.3h0.75M160.3 56.9h0.75M155.8 59.7h0.75M159.7 60.2h0.75M154.2 56.7h0.75M159.5 58.1h0.75M155.0 61.3h0.75M159.7 65.4h0.75M153.9 56.3h0.75M154.9 59.6h0.75M155.4 62.0h0.75M149.6 61.5h0.75M155.0 57.6h0.75M158.2 59.1h0.75M154.0 63.3h0.75M158.2 56.9h0.75M157.3 55.0h0.75M153.5 57.5h0.75M157.7 58.8h0.75M154.7 54.1h0.75M152.3 63.6h0.75M157.7 56.0h0.75M159.8 60.2h0.75M155.6 56.6h0.75M159.7 59.5h0.75M161.0 59.6h0.75M155.2 56.6h0.75M154.8 59.3h0.75M157.4 60.4h0.75M157.9 55.2h0.75M156.2 55.5h0.75M158.0 54.3h0.75M155.2 55.8h0.75M155.1 57.7h0.75M160.7 57.7h0.75M152.9 57.5h0.75M158.7 60.3h0.75M157.3 64.8h0.75M159.6 58.8h0.75M159.9 54.3h0.75M156.3 55.8h0.75M157.2 63.6h0.75M155.4 63.5h0.75M154.0 63.0h0.75M152.2 55.8h0.75M159.3 58.2h0.75M157.1 58.5h0.75M157.2 57.9h0.75M154.1 57.6h0.75M157.0 55.7h0.75M157.9 64.1h0.75M152.4 56.8h0.75M156.0 58.6h0.75M157.0 56.2h0.75M156.6 58.5h0.75M156.5 63.4h0.75M157.0 53.8h0.75M152.6 60.4h0.75M155.8 56.5h0.75M153.1 57.5h0.75M156.5 56.3h0.75M155.8 61.3h0.75M158.8 60.2h0.75M156.2 54.2h0.75M158.7 63.2h0.75M160.0 62.2h0.75M157.4 59.7h0.75M156.7 62.5h0.75M156.0 65.3h0.75M158.7 57.5h0.75M156.7 53.4h0.75M154.8 57.6h0.75M163.1 55.9h0.75M159.1 58.7h0.75M155.9 60.5h0.75M151.5 61.5h0.75M161.8 59.4h0.75M156.5 59.0h0.75M158.4 56.9h0.75M157.0 60.1h0.75M155.8 59.7h0.75M157.6 60.8h0.75M154.1 56.8h0.75M155.6 62.3h0.75M157.4 53.3h0.75M153.4 64.6h0.75M157.6 54.4h0.75M154.3 59.0h0.75M160.4 63.6h0.75M155.7 57.6h0.75M161.7 55.4h0.75M160.8 59.6h0.75M156.9 62.6h0.75M158.0 55.9h0.75M152.7 58.6h0.75M158.0 62.8h0.75M149.9 62.8h0.75M158.3 63.3h0.75M158.8 59.2h0.75M157.8 59.8h0.75M155.1 58.1h0.75M157.0 57.1h0.75M152.9 53.9h0.75M158.0 60.2h0.75M157.0 54.8h0.75M158.9 57.3h0.75M151.3 63.5h0.75M152.8 65.6h0.75M158.1 57.1h0.75M150.5 56.3h0.75M160.6 62.8h0.75M157.4 53.1h0.75M155.7 57.6h0.75M157.9 58.1h0.75M157.6 53.3h0.75M155.0 63.1h0.75M152.9 61.4h0.75M162.8 60.6h0.75M153.1 62.5h0.75M151.8 59.6h0.75M155.6 62.4h0.75M159.8 59.1h0.75M161.4 61.6h0.75M155.4 55.4h0.75M163.2 57.2h0.75M157.8 58.1h0.75M155.5 53.4h0.75M156.3 58.1h0.75M159.3 56.9h0.75M152.6 55.1h0.75M156.6 59.3h0.75M158.6 57.3h0.75M158.1 59.0h0.75M161.1 58.3h0.75M157.1 60.3h0.75M159.9 55.6h0.75M155.5 57.6h0.75M151.1 62.6h0.75M159.5 58.6h0.75M165.5 62.5h0.75M162.0 63.5h0.75M159.1 54.0h0.75M160.7 59.8h0.75M153.6 58.7h0.75M158.7 61.6h0.75M157.2 56.8h0.75M158.7 56.1h0.75M156.5 60.9h0.75M152.9 59.7h0.75M151.6 55.6h0.75M153.5 58.2h0.75M158.6 58.3h0.75M159.1 58.8h0.75M156.2 60.1h0.75M156.1 58.9h0.75M159.4 56.7h0.75M159.7 55.0h0.75M156.1 53.0h0.75M155.3 63.6h0.75M157.6 62.5h0.75M152.8 55.3h0.75M157.9 61.1h0.75M158.9 53.2h0.75M158.0 58.3h0.75M157.0 60.0h0.75M156.0 53.1h0.75M153.9 53.9h0.75M153.2 58.1h0.75M160.1 56.2h0.75M154.7 54.8h0.75M152.2 58.7h0.75M155.4 57.7h0.75M154.2 60.1h0.75M153.5 60.2h0.75M155.0 61.0h0.75M154.4 59.9h0.75M157.9 58.2h0.75M161.0 59.1h0.75M154.4 60.7h0.75M154.5 56.8h0.75M156.7 59.1h0.75M161.2 52.9h0.75M156.0 62.1h0.75M156.3 59.5h0.75M160.7 54.6h0.75M156.8 61.0h0.75M155.2 52.9h0.75M154.1 59.1h0.75M157.2 64.4h0.75M160.2 53.6h0.75M159.4 61.4h0.75M161.0 58.0h0.75M155.2 59.0h0.75M160.8 60.5h0.75M161.2 61.0h0.75M155.2 55.3h0.75M161.6 53.7h0.75M155.8 57.5h0.75M154.3 56.7h0.75M156.7 66.1h0.75M156.5 56.8h0.75M157.0 61.5h0.75M154.6 57.2h0.75M152.1 60.7h0.75M158.5 63.3h0.75M153.5 65.4h0.75M159.0 57.6h0.75M155.7 57.5h0.75M153.5 61.0h0.75M155.1 56.2h0.75M158.1 58.9h0.75M155.2 57.8h0.75M155.4 62.8h0.75M159.3 56.2h0.75M156.6 62.9h0.75M155.9 64.2h0.75M157.9 60.6h0.75M151.2 61.2h0.75M157.6 60.4h0.75M158.0 60.2h0.75M155.4 61.4h0.75M156.9 55.1h0.75M154.0 59.0h0.75M157.6 51.5h0.75M151.3 61.9h0.75M156.7 67.6h0.75M152.7 57.7h0.75M155.1 60.3h0.75M160.4 63.7h0.75M154.0 62.4h0.75M153.5 59.5h0.75M157.2 60.5h0.75M154.6 62.8h0.75M156.5 58.4h0.75M156.0 55.1h0.75M158.6 59.6h0.75M157.9 64.5h0.75M154.4 57.6h0.75M156.7 61.2h0.75M156.2 61.5h0.75M157.9 52.9h0.75M154.9 52.0h0.75M155.9 57.2h0.75M158.3 59.0h0.75M156.5 62.5h0.75M158.3 54.6h0.75M154.9 59.6h0.75M161.2 57.9h0.75M156.3 59.4h0.75M158.8 58.2h0.75M157.5 57.2h0.75M155.2 56.0h0.75M158.4 56.7h0.75M158.1 59.8h0.75M159.3 49.9h0.75M154.2 54.6h0.75M156.3 61.1h0.75M163.4 63.4h0.75M160.3 59.7h0.75M155.7 60.2h0.75M151.0 61.5h0.75M156.7 60.5h0.75M154.0 55.0h0.75M155.0 58.4h0.75M157.6 57.4h0.75M157.6 60.7h0.75M153.6 58.2h0.75M152.6 56.7h0.75M159.1 56.2h0.75M161.6 60.1h0.75M159.0 58.8h0.75M159.0 62.0h0.75M157.0 56.8h0.75M155.3 64.7h0.75M156.2 57.0h0.75M154.8 53.1h0.75M155.4 59.5h0.75M155.4 56.1h0.75M157.8 60.0h0.75M155.5 59.5h0.75M154.1 61.3h0.75M154.1 57.4h0.75M157.1 57.2h0.75M153.7 65.2h0.75M160.7 52.9h0.75M157.0 54.4h0.75M157.5 54.3h0.75M158.2 60.2h0.75M161.2 62.4h0.75M155.5 61.5h0.75M155.5 58.1h0.75M155.4 52.8h0.75M158.3 52.0h0.75M156.1 60.2h0.75M157.0 53.4h0.75M155.0 60.7h0.75M159.6 63.6h0.75M151.9 60.0h0.75M155.4 61.0h0.75M152.2 58.0h0.75M158.6 56.4h0.75M155.7 55.4h0.75M162.7 52.5h0.75M152.4 58.8h0.75M155.4 67.6h0.75M158.4 55.4h0.75M160.0 59.6h0.75M158.4 58.4h0.75M159.3 53.9h0.75M150.9 58.8h0.75M151.4 63.1h0.75M166.9 61.4h0.75M159.3 59.8h0.75M153.5 54.8h0.75M159.8 52.6h0.75M158.5 58.1h0.75M160.8 58.3h0.75M157.5 56.6h0.75M148.3 59.8h0.75M160.5 62.2h0.75M164.0 53.4h0.75M152.2 62.9h0.75M154.7 69.6h0.75M158.6 52.7h0.75M154.2 65.8h0.75M147.7 61.8h0.75M150.0 67.0h0.75M154.7 55.5h0.75M148.3 58.3h0.75M144.0 60.3h0.75M168.1 56.7h0.75M155.7 54.8h0.75M158.7 56.7h0.75M152.7 65.4h0.75M159.2 55.0h0.75M164.5 57.0h0.75M159.6 59.0h0.75M163.0 59.9h0.75M155.2 62.2h0.75M155.0 60.0h0.75M165.3 52.8h0.75M151.7 58.7h0.75M154.5 64.7h0.75M148.9 69.9h0.75M165.1 55.3h0.75M157.9 57.4h0.75M160.4 60.8h0.75M160.8 61.1h0.75M166.8 56.0h0.75M160.6 57.4h0.75M157.2 59.8h0.75M156.7 60.4h0.75M152.7 59.5h0.75M153.9 55.2h0.75M153.4 57.9h0.75M156.2 53.1h0.75M155.7 54.9h0.75M152.8 60.7h0.75M162.6 58.8h0.75M154.5 57.9h0.75M163.8 51.0h0.75M162.8 51.7h0.75M153.8 60.0h0.75M155.9 65.8h0.75M159.5 58.2h0.75M161.9 58.0h0.75M152.9 64.4h0.75M164.6 62.2h0.75M151.0 67.9h0.75M154.9 62.5h0.75M163.1 66.8h0.75M148.8 57.0h0.75M163.0 59.5h0.75M155.4 47.9h0.75M159.2 57.7h0.75M143.7 72.7h0.75M144.3 59.9h0.75M157.0 59.9h0.75M160.8 57.0h0.75M152.4 58.7h0.75M146.3 57.2h0.75M167.1 53.9h0.75M156.6 66.5h0.75M162.4 58.2h0.75M160.7 57.0h0.75M152.4 64.0h0.75M157.7 65.1h0.75M155.7 57.9h0.75M158.8 57.8h0.75M155.4 55.9h0.75M158.3 60.0h0.75M166.3 56.6h0.75M148.1 63.0h0.75M168.7 54.4h0.75M152.9 59.3h0.75M142.4 61.2h0.75M156.0 53.3h0.75M159.9 54.9h0.75M147.6 58.5h0.75M160.2 65.7h0.75M163.4 58.2h0.75M154.4 58.6h0.75M161.9 55.8h0.75M159.1 62.3h0.75M152.4 57.8h0.75M159.3 58.5h0.75M156.4 57.1h0.75M156.7 66.3h0.75M163.9 51.0h0.75M157.2 59.3h0.75M157.2 53.5h0.75M156.3 59.7h0.75M153.5 61.1h0.75M144.6 56.1h0.75M157.5 60.4h0.75M156.2 57.4h0.75M157.9 63.0h0.75M161.6 57.6h0.75M154.6 63.7h0.75M159.8 61.8h0.75M155.6 56.0h0.75M158.0 56.3h0.75M162.9 60.9h0.75M145.9 64.3h0.75M163.8 61.4h0.75M154.6 56.2h0.75M162.0 61.8h0.75M157.3 54.4h0.75M149.2 61.9h0.75M152.8 57.4h0.75M159.3 62.6h0.75M146.5 58.9h0.75M163.6 57.2h0.75M155.3 61.9h0.75M151.2 55.6h0.75M157.1 65.1h0.75M162.2 57.7h0.75M162.2 56.1h0.75M151.0 53.9h0.75M158.4 62.2h0.75M158.9 58.4h0.75M155.0 63.8h0.75M156.8 53.4h0.75M164.0 54.8h0.75M159.0 58.5h0.75M162.4 58.7h0.75M163.3 58.3h0.75M154.6 57.6h0.75M160.3 54.9h0.75M161.7 56.9h0.75M152.3 56.7h0.75M156.3 66.1h0.75M160.9 58.1h0.75M152.4 67.6h0.75M155.6 59.3h0.75M154.8 64.8h0.75M157.9 57.0h0.75M157.9 54.9h0.75M151.6 59.7h0.75M142.3 67.2h0.75M167.2 52.2h0.75M156.3 53.0h0.75M157.9 59.6h0.75M160.8 52.8h0.75M153.9 57.2h0.75M155.7 68.3h0.75M156.0 59.1h0.75M154.4 62.8h0.75M170.1 60.4h0.75M164.8 52.9h0.75M162.4 57.8h0.75M163.4 61.6h0.75M160.3 51.6h0.75M157.7 56.9h0.75M159.3 58.6h0.75M162.4 51.4h0.75M153.2 59.6h0.75M158.6 57.0h0.75M156.9 59.3h0.75M162.4 57.3h0.75M158.2 51.6h0.75M143.6 56.5h0.75M158.8 49.5h0.75M159.1 58.1h0.75M157.0 56.1h0.75M154.9 62.8h0.75M158.8 58.5h0.75M154.5 60.4h0.75M163.1 57.4h0.75M155.1 54.8h0.75M157.5 55.3h0.75M149.7 64.2h0.75M153.8 51.8h0.75M153.3 67.1h0.75M156.5 53.9h0.75M151.4 63.2h0.75M159.1 59.3h0.75M156.0 61.1h0.75M164.9 59.0h0.75M156.2 53.7h0.75M159.3 64.6h0.75M160.3 53.2h0.75M157.9 63.9h0.75M153.8 61.7h0.75M163.2 63.9h0.75M148.9 54.1h0.75M158.9 61.3h0.75M155.2 59.4h0.75M154.9 64.2h0.75M145.7 62.7h0.75M150.5 57.9h0.75M149.2 57.3h0.75M156.9 59.1h0.75M166.2 55.9h0.75M158.8 60.0h0.75M158.3 64.5h0.75M157.7 59.4h0.75M156.4 59.2h0.75M156.7 63.0h0.75M157.1 59.2h0.75M156.8 62.0h0.75M154.6 63.3h0.75M154.1 62.4h0.75M166.8 57.5h0.75M156.6 54.5h0.75M160.8 58.1h0.75M161.7 55.3h0.75M159.7 65.5h0.75M159.1 57.2h0.75M150.3 60.6h0.75M160.4 60.5h0.75M151.3 56.3h0.75M152.0 56.2h0.75M155.6 60.4h0.75M166.9 57.4h0.75M164.5 50.7h0.75M164.9 60.2h0.75M159.3 61.7h0.75M160.2 65.8h0.75M161.1 51.1h0.75M148.0 67.5h0.75M156.6 64.3h0.75M168.0 52.2h0.75M168.0 54.1h0.75M171.1 51.5h0.75M173.2 53.4h0.75M164.6 52.2h0.75M158.4 55.3h0.75M170.1 51.6h0.75M166.4 53.6h0.75M170.2 54.1h0.75M174.9 52.6h0.75M176.6 49.4h0.75M173.6 52.8h0.75M163.8 53.2h0.75M172.6 52.5h0.75M162.6 53.8h0.75M179.0 52.4h0.75M170.5 55.5h0.75M164.6 54.0h0.75M175.7 50.9h0.75M163.4 55.8h0.75M170.9 50.3h0.75M168.2 50.7h0.75M170.3 51.5h0.75M164.1 53.6h0.75M171.2 56.2h0.75M171.7 55.7h0.75M163.7 54.7h0.75M167.4 50.6h0.75M171.4 51.1h0.75M166.6 51.8h0.75M176.1 50.7h0.75M169.1 53.6h0.75M162.7 55.3h0.75M169.0 54.1h0.75M167.7 53.6h0.75M173.1 54.1h0.75M165.9 55.9h0.75M164.2 54.1h0.75M170.8 53.1h0.75M155.2 54.8h0.75M168.9 55.1h0.75M165.8 57.0h0.75M159.3 55.8h0.75M173.2 52.2h0.75M171.6 54.5h0.75M165.2 55.4h0.75M176.3 51.0h0.75M156.3 54.1h0.75M164.9 52.2h0.75M172.6 50.8h0.75M162.3 54.4h0.75M179.1 52.1h0.75M164.0 56.6h0.75M167.2 58.1h0.75M166.7 55.0h0.75M173.3 51.3h0.75M169.1 55.5h0.75M173.0 52.1h0.75M172.6 55.8h0.75M175.5 52.6h0.75M172.0 49.4h0.75M170.8 51.8h0.75M174.3 50.7h0.75M172.7 50.3h0.75M175.3 50.2h0.75M169.8 54.2h0.75M168.1 53.5h0.75M176.3 54.9h0.75M159.3 53.9h0.75M174.0 53.9h0.75M167.2 53.9h0.75M168.9 57.8h0.75M168.8 50.9h0.75M160.8 52.8h0.75M177.7 50.3h0.75M181.6 51.4h0.75M172.3 53.7h0.75M174.7 53.6h0.75M164.2 53.3h0.75M166.8 54.0h0.75M168.5 50.9h0.75M165.9 57.6h0.75M182.6 48.2h0.75M172.3 52.4h0.75M165.0 55.7h0.75M169.6 56.4h0.75M172.7 51.7h0.75M154.3 56.7h0.75M175.0 50.3h0.75M175.2 53.0h0.75M159.5 55.2h0.75M171.9 54.0h0.75M170.9 52.7h0.75M167.9 52.9h0.75M170.0 50.9h0.75M173.8 51.4h0.75M153.6 67.7h0.75M152.8 70.5h0.75M156.2 69.4h0.75M156.5 67.0h0.75M149.6 71.3h0.75M141.3 77.5h0.75M157.5 69.6h0.75M144.1 77.1h0.75M155.2 63.6h0.75M152.4 71.5h0.75M155.2 69.4h0.75M138.0 73.1h0.75M163.7 61.2h0.75M158.8 70.5h0.75M150.6 67.5h0.75M159.5 65.4h0.75M153.6 71.2h0.75M156.6 71.1h0.75M140.2 73.7h0.75M151.0 71.4h0.75M155.4 67.8h0.75M148.7 80.1h0.75M159.5 69.6h0.75M157.2 64.3h0.75M149.4 72.2h0.75M142.4 74.1h0.75M151.1 66.9h0.75M153.7 71.1h0.75M148.4 71.9h0.75M154.2 70.8h0.75M152.5 65.9h0.75M138.8 87.0h0.75M145.5 73.8h0.75M137.4 77.8h0.75M144.9 78.3h0.75M147.1 72.2h0.75M144.6 74.1h0.75M139.1 80.4h0.75M158.3 66.9h0.75M146.3 79.0h0.75M153.4 66.0h0.75M146.0 72.6h0.75M149.7 76.5h0.75M145.1 74.8h0.75M150.8 67.2h0.75M146.7 76.4h0.75M157.8 60.0h0.75M154.9 67.6h0.75M158.9 68.1h0.75M163.6 63.8h0.75M147.3 70.9h0.75M140.1 80.8h0.75M153.6 72.5h0.75M152.4 65.0h0.75M147.2 73.1h0.75M151.1 74.0h0.75M159.8 66.3h0.75M135.7 78.2h0.75M135.2 79.4h0.75M141.7 78.5h0.75M148.5 77.0h0.75M157.5 65.3h0.75M156.5 67.6h0.75M153.2 74.6h0.75M142.1 77.2h0.75M160.6 62.0h0.75M151.5 71.4h0.75M147.1 69.3h0.75M145.3 71.8h0.75M157.5 67.8h0.75M154.9 64.5h0.75M153.5 70.1h0.75M157.3 64.5h0.75M155.6 73.0h0.75M162.5 60.2h0.75M142.2 72.2h0.75M156.7 69.5h0.75M152.4 67.3h0.75M158.7 71.7h0.75M149.8 71.7h0.75M158.2 68.1h0.75M159.3 64.2h0.75M152.4 69.2h0.75M146.1 73.7h0.75M148.0 75.1h0.75M147.9 73.7h0.75M144.4 71.5h0.75M159.9 61.8h0.75M162.6 66.7h0.75M147.1 74.0h0.75M148.8 70.7h0.75M158.7 65.6h0.75M156.7 65.0h0.75M145.2 80.0h0.75M148.1 69.5h0.75M148.8 76.5h0.75M148.9 70.2h0.75M154.4 72.4h0.75M148.6 71.9h0.75M147.5 83.2h0.75M148.7 79.0h0.75M149.0 74.1h0.75M135.9 82.3h0.75M150.4 70.6h0.75M147.2 69.1h0.75M139.7 79.6h0.75M145.6 74.7h0.75M148.8 71.1h0.75M150.0 91.9h0.75M162.9 81.3h0.75M170.0 80.8h0.75M153.7 82.6h0.75M135.6 76.4h0.75M136.5 96.4h0.75M179.9 85.8h0.75M142.4 92.0h0.75M148.6 90.4h0.75M167.1 84.3h0.75M171.6 73.8h0.75M176.2 82.3h0.75M172.4 91.5h0.75M147.2 78.2h0.75M152.6 67.9h0.75M178.3 86.8h0.75M159.0 82.4h0.75M178.5 67.7h0.75M152.4 86.8h0.75M161.2 80.9h0.75M147.4 72.4h0.75M168.0 76.1h0.75M181.4 93.5h0.75M183.0 74.1h0.75M160.2 68.7h0.75" stroke="#000" stroke-width="0.75" fill="none"/>
<text x="46" y="88.3" font-size="9.5" text-anchor="middle" stroke="#fff" stroke-width="2" fill="#fff" stroke-linejoin="round">7%</text>
<text x="46" y="88.3" font-size="9.5" text-anchor="middle" font-weight="normal" stroke="#000" stroke-width="0.45">7%</text>
<text x="110.5" y="88.3" font-size="9.5" text-anchor="middle" stroke="#fff" stroke-width="2" fill="#fff" stroke-linejoin="round">82%</text>
<text x="110.5" y="88.3" font-size="9.5" text-anchor="middle" font-weight="normal" stroke="#000" stroke-width="0.45">82%</text>
<text x="165" y="88.3" font-size="9.5" text-anchor="middle" stroke="#fff" stroke-width="2" fill="#fff" stroke-linejoin="round">8%</text>
<text x="165" y="88.3" font-size="9.5" text-anchor="middle" font-weight="normal" stroke="#000" stroke-width="0.45">8%</text>
<text x="39" y="109.3" font-size="9.5" text-anchor="middle" font-weight="normal" stroke="#000" stroke-width="0.45">FSC-H</text>
<text x="99" y="109.3" font-size="9.5" text-anchor="middle" font-weight="normal" stroke="#000" stroke-width="0.45">FSC-H</text>
<text x="159" y="109.3" font-size="9.5" text-anchor="middle" font-weight="normal" stroke="#000" stroke-width="0.45">FSC-H</text>
<rect x="14.5" y="114.5" width="52" height="52" fill="none" stroke="#222" stroke-width="1.0"/>
<rect x="74.5" y="114.5" width="52" height="52" fill="none" stroke="#222" stroke-width="1.0"/>
<rect x="133.5" y="114.5" width="52" height="52" fill="none" stroke="#222" stroke-width="1.0"/>
<path d="M15.3 161.8 L16.0 161.1 L16.7 159.9 L17.4 158.5 L18.1 156.3 L18.8 153.3 L19.5 149.6 L20.2 144.5 L20.9 138.1 L21.6 131.4 L22.3 125.0 L23.0 119.9 L23.7 116.8 L24.4 117.6 L25.1 122.8 L25.8 130.0 L26.5 139.7 L27.2 147.5 L27.9 153.0 L28.6 156.8 L29.3 159.2 L30.0 160.9 L30.7 162.1 L31.4 163.1 L32.1 163.7 L32.8 164.3 L33.5 164.8 L34.2 165.1 L34.9 165.2 L35.6 165.3 L36.3 165.3 L37.0 165.4 L37.7 165.0 L38.4 165.5 L39.1 165.6 L39.8 165.6 L40.5 165.5 L41.2 165.6 L41.9 165.7 L42.6 165.5 L43.3 165.7 L44.0 165.6 L44.7 165.6 L45.4 165.6 L46.1 165.7 L46.8 165.7 L47.5 165.7 L48.2 165.7 L48.9 165.7 L49.6 165.7 L50.3 165.7 L51.0 165.7 L51.7 165.7 L52.4 165.7 L53.1 165.7 L53.8 165.7 L54.5 165.7 L55.2 165.7 L55.9 165.7 L56.6 165.7 L57.3 165.7 L58.0 165.7 L58.7 165.7 L59.4 165.7 L60.1 165.7 L60.8 165.7 L61.5 165.7 L62.2 165.7 L62.9 165.7 L63.6 165.7 L64.3 165.7 L65.0 165.7 L65.7 165.7 L66.4 165.7" stroke="#666" stroke-width="0.7" fill="none" stroke-linejoin="round"/>
<path d="M15.3 163.7 L16.0 162.8 L16.7 162.3 L17.4 161.5 L18.1 160.9 L18.8 159.8 L19.5 157.7 L20.2 156.6 L20.9 154.2 L21.6 150.5 L22.3 146.0 L23.0 141.8 L23.7 135.8 L24.4 129.8 L25.1 125.5 L25.8 122.0 L26.5 119.5 L27.2 120.9 L27.9 126.4 L28.6 135.4 L29.3 143.2 L30.0 149.5 L30.7 154.4 L31.4 157.1 L32.1 159.8 L32.8 161.2 L33.5 162.2 L34.2 163.0 L34.9 163.6 L35.6 163.4 L36.3 164.1 L37.0 163.7 L37.7 164.2 L38.4 164.4 L39.1 164.2 L39.8 164.8 L40.5 165.0 L41.2 165.1 L41.9 165.2 L42.6 165.2 L43.3 165.1 L44.0 165.4 L44.7 165.4 L45.4 165.4 L46.1 165.4 L46.8 165.7 L47.5 165.5 L48.2 165.5 L48.9 165.3 L49.6 165.5 L50.3 165.6 L51.0 165.3 L51.7 165.3 L52.4 165.2 L53.1 165.7 L53.8 165.7 L54.5 165.5 L55.2 165.4 L55.9 165.6 L56.6 165.7 L57.3 165.7 L58.0 165.7 L58.7 165.7 L59.4 165.7 L60.1 165.7 L60.8 165.7 L61.5 165.5 L62.2 165.3 L62.9 165.6 L63.6 165.7 L64.3 165.7 L65.0 165.7 L65.7 165.7 L66.4 165.5" stroke="#000" stroke-width="1.4" fill="none" stroke-linejoin="round"/>
<path d="M75.3 163.8 L76.0 163.1 L76.7 162.4 L77.4 161.6 L78.1 160.4 L78.8 159.2 L79.5 157.1 L80.2 154.8 L80.9 151.6 L81.6 146.8 L82.3 141.1 L83.0 134.9 L83.7 128.5 L84.4 122.9 L85.1 119.4 L85.8 117.7 L86.5 121.9 L87.2 128.1 L87.9 136.7 L88.6 144.1 L89.3 150.2 L90.0 154.4 L90.7 157.7 L91.4 159.3 L92.1 161.2 L92.8 162.3 L93.5 163.0 L94.2 163.8 L94.9 164.4 L95.6 164.7 L96.3 164.7 L97.0 164.9 L97.7 164.8 L98.4 165.0 L99.1 165.1 L99.8 165.3 L100.5 165.2 L101.2 165.4 L101.9 165.3 L102.6 165.4 L103.3 165.5 L104.0 165.7 L104.7 165.6 L105.4 165.6 L106.1 165.7 L106.8 165.7 L107.5 165.7 L108.2 165.7 L108.9 165.7 L109.6 165.7 L110.3 165.7 L111.0 165.7 L111.7 165.7 L112.4 165.7 L113.1 165.7 L113.8 165.7 L114.5 165.7 L115.2 165.7 L115.9 165.7 L116.6 165.7 L117.3 165.7 L118.0 165.7 L118.7 165.7 L119.4 165.7 L120.1 165.7 L120.8 165.7 L121.5 165.7 L122.2 165.7 L122.9 165.7 L123.6 165.7 L124.3 165.7 L125.0 165.7 L125.7 165.7 L126.4 165.7" stroke="#666" stroke-width="0.7" fill="none" stroke-linejoin="round"/>
<path d="M75.3 162.2 L76.0 161.5 L76.7 161.0 L77.4 158.8 L78.1 159.2 L78.8 155.9 L79.5 154.8 L80.2 152.9 L80.9 148.0 L81.6 144.3 L82.3 138.8 L83.0 132.7 L83.7 125.5 L84.4 120.9 L85.1 114.2 L85.8 114.3 L86.5 114.5 L87.2 120.9 L87.9 127.8 L88.6 133.4 L89.3 144.3 L90.0 149.6 L90.7 154.4 L91.4 157.0 L92.1 159.2 L92.8 160.7 L93.5 160.7 L94.2 162.7 L94.9 163.0 L95.6 163.0 L96.3 162.5 L97.0 163.8 L97.7 163.8 L98.4 162.9 L99.1 163.7 L99.8 164.5 L100.5 164.5 L101.2 163.7 L101.9 164.6 L102.6 163.8 L103.3 164.9 L104.0 165.1 L104.7 165.2 L105.4 165.2 L106.1 165.4 L106.8 165.4 L107.5 165.4 L108.2 165.0 L108.9 164.9 L109.6 165.7 L110.3 165.5 L111.0 165.4 L111.7 165.6 L112.4 165.3 L113.1 165.6 L113.8 165.3 L114.5 165.7 L115.2 165.7 L115.9 165.7 L116.6 165.7 L117.3 165.7 L118.0 164.9 L118.7 165.0 L119.4 165.7 L120.1 165.5 L120.8 165.4 L121.5 165.7 L122.2 165.7 L122.9 165.4 L123.6 164.8 L124.3 165.7 L125.0 165.1 L125.7 164.8 L126.4 165.4" stroke="#000" stroke-width="1.5" fill="none" stroke-linejoin="round"/>
<path d="M134.3 165.1 L135.0 164.6 L135.7 164.2 L136.4 163.6 L137.1 162.6 L137.8 161.7 L138.5 160.0 L139.2 158.3 L139.9 155.2 L140.6 150.7 L141.3 144.5 L142.0 135.7 L142.7 127.5 L143.4 119.8 L144.1 116.3 L144.8 119.5 L145.5 127.8 L146.2 138.0 L146.9 147.5 L147.6 153.7 L148.3 157.7 L149.0 160.0 L149.7 161.8 L150.4 163.0 L151.1 163.8 L151.8 164.5 L152.5 165.0 L153.2 165.0 L153.9 165.2 L154.6 165.3 L155.3 165.3 L156.0 165.4 L156.7 165.4 L157.4 165.5 L158.1 165.6 L158.8 165.5 L159.5 165.5 L160.2 165.5 L160.9 165.6 L161.6 165.7 L162.3 165.7 L163.0 165.7 L163.7 165.7 L164.4 165.6 L165.1 165.7 L165.8 165.7 L166.5 165.7 L167.2 165.7 L167.9 165.7 L168.6 165.7 L169.3 165.7 L170.0 165.7 L170.7 165.7 L171.4 165.7 L172.1 165.7 L172.8 165.7 L173.5 165.7 L174.2 165.7 L174.9 165.7 L175.6 165.7 L176.3 165.7 L177.0 165.7 L177.7 165.7 L178.4 165.7 L179.1 165.7 L179.8 165.7 L180.5 165.7 L181.2 165.7 L181.9 165.7 L182.6 165.7 L183.3 165.6 L184.0 165.6 L184.7 165.7 L185.4 165.7" stroke="#666" stroke-width="0.7" fill="none" stroke-linejoin="round"/>
<path d="M134.3 165.7 L135.0 165.7 L135.7 165.7 L136.4 165.6 L137.1 165.3 L137.8 165.3 L138.5 164.8 L139.2 164.7 L139.9 164.1 L140.6 163.9 L141.3 163.4 L142.0 162.9 L142.7 161.8 L143.4 161.6 L144.1 161.2 L144.8 160.8 L145.5 160.0 L146.2 159.8 L146.9 159.9 L147.6 159.9 L148.3 159.8 L149.0 159.6 L149.7 159.0 L150.4 158.2 L151.1 157.2 L151.8 155.2 L152.5 151.6 L153.2 145.5 L153.9 138.7 L154.6 129.4 L155.3 122.3 L156.0 118.1 L156.7 120.0 L157.4 126.7 L158.1 135.3 L158.8 144.4 L159.5 151.2 L160.2 155.6 L160.9 158.7 L161.6 160.4 L162.3 161.9 L163.0 163.2 L163.7 163.8 L164.4 163.7 L165.1 164.4 L165.8 164.2 L166.5 164.1 L167.2 164.8 L167.9 165.0 L168.6 164.9 L169.3 165.1 L170.0 165.3 L170.7 165.0 L171.4 165.2 L172.1 165.3 L172.8 165.3 L173.5 165.2 L174.2 165.5 L174.9 165.7 L175.6 165.4 L176.3 165.6 L177.0 165.6 L177.7 165.7 L178.4 165.5 L179.1 165.6 L179.8 165.7 L180.5 165.5 L181.2 165.3 L181.9 165.5 L182.6 165.7 L183.3 165.5 L184.0 165.7 L184.7 165.4 L185.4 165.3" stroke="#000" stroke-width="1.4" fill="none" stroke-linejoin="round"/>
<text x="44.6" y="128.8" font-size="9.7" text-anchor="middle" font-weight="normal" stroke="#000" stroke-width="0.45">r=1.66</text>
<text x="106.5" y="128.6" font-size="9.5" text-anchor="middle" font-weight="normal" stroke="#000" stroke-width="0.45">r=1.21</text>
<text x="167.3" y="128.7" font-size="9.7" text-anchor="middle" font-weight="normal" stroke="#000" stroke-width="0.45">r=8.30</text>
<text x="39" y="180.8" font-size="9.5" text-anchor="middle" font-weight="normal" stroke="#000" stroke-width="0.45">DR5-PE</text>
<text x="99" y="180.8" font-size="9.5" text-anchor="middle" font-weight="normal" stroke="#000" stroke-width="0.45">DR5-PE</text>
<text x="158.5" y="180.8" font-size="9.5" text-anchor="middle" font-weight="normal" stroke="#000" stroke-width="0.45">DR5-PE</text>
<text x="201.3" y="11.6" font-size="13.5" text-anchor="start" font-weight="bold" stroke="#000" stroke-width="0.3">B</text>
<line x1="247.3" y1="49.50000000000001" x2="247.3" y2="167.4" stroke="#000" stroke-width="1.7"/>
<line x1="246.4" y1="166.5" x2="355.5" y2="166.5" stroke="#000" stroke-width="1.7"/>
<line x1="243.3" y1="166.5" x2="247.3" y2="166.5" stroke="#000" stroke-width="1.5"/>
<text x="242.5" y="169.7" font-size="9.0" text-anchor="end" font-weight="normal" stroke="#000" stroke-width="0.3">0</text>
<line x1="243.3" y1="127.7" x2="247.3" y2="127.7" stroke="#000" stroke-width="1.5"/>
<text x="242.5" y="130.9" font-size="9.0" text-anchor="end" font-weight="normal" stroke="#000" stroke-width="0.3">40</text>
<line x1="243.3" y1="88.9" x2="247.3" y2="88.9" stroke="#000" stroke-width="1.5"/>
<text x="242.5" y="92.10000000000001" font-size="9.0" text-anchor="end" font-weight="normal" stroke="#000" stroke-width="0.3">80</text>
<line x1="243.3" y1="50.10000000000001" x2="247.3" y2="50.10000000000001" stroke="#000" stroke-width="1.5"/>
<text x="242.5" y="53.30000000000001" font-size="9.0" text-anchor="end" font-weight="normal" stroke="#000" stroke-width="0.3">120</text>
<text x="222.6" y="105.5" font-size="11" text-anchor="middle" font-weight="normal" stroke="#000" stroke-width="0.3" transform="rotate(-90 222.6 105.5)">Cell death (%)</text>
<text x="302" y="39.2" font-size="9.5" text-anchor="middle" font-weight="normal" stroke="#000" stroke-width="0.3">p=0.0009</text>
<line x1="256.6" y1="48.2" x2="346.2" y2="48.2" stroke="#000" stroke-width="1.7"/>
<line x1="256.6" y1="44.800000000000004" x2="256.6" y2="51.6" stroke="#000" stroke-width="1.7"/>
<line x1="346.2" y1="44.800000000000004" x2="346.2" y2="51.6" stroke="#000" stroke-width="1.7"/>
<line x1="256.6" y1="56.5" x2="319.7" y2="56.5" stroke="#000" stroke-width="1.7"/>
<line x1="256.6" y1="53.1" x2="256.6" y2="59.9" stroke="#000" stroke-width="1.7"/>
<line x1="319.7" y1="53.1" x2="319.7" y2="59.9" stroke="#000" stroke-width="1.7"/>
<text x="289.3" y="68" font-size="9.5" text-anchor="middle" font-weight="normal" stroke="#000" stroke-width="0.3">p=0.03</text>
<circle cx="254.5" cy="71.3" r="2.65" fill="#000"/>
<circle cx="257.3" cy="69.6" r="2.65" fill="#000"/>
<circle cx="260.3" cy="69.6" r="2.65" fill="#000"/>
<circle cx="262.6" cy="72.7" r="2.65" fill="#000"/>
<circle cx="255.7" cy="75" r="2.65" fill="#000"/>
<circle cx="258.5" cy="73.6" r="2.65" fill="#000"/>
<circle cx="262" cy="82.4" r="2.65" fill="#000"/>
<circle cx="255.7" cy="87.4" r="2.65" fill="#000"/>
<circle cx="262" cy="88.8" r="2.65" fill="#000"/>
<circle cx="258.5" cy="90.4" r="2.65" fill="#000"/>
<circle cx="258" cy="98" r="2.65" fill="#000"/>
<circle cx="258.4" cy="113" r="2.65" fill="#000"/>
<circle cx="262" cy="117.7" r="2.65" fill="#000"/>
<circle cx="255.2" cy="121.8" r="2.65" fill="#000"/>
<circle cx="258.5" cy="123" r="2.65" fill="#000"/>
<circle cx="262" cy="138.1" r="2.65" fill="#000"/>
<circle cx="255.4" cy="142.3" r="2.65" fill="#000"/>
<circle cx="255" cy="153.6" r="2.65" fill="#000"/>
<circle cx="261.9" cy="152" r="2.65" fill="#000"/>
<circle cx="255.4" cy="156.6" r="2.65" fill="#000"/>
<circle cx="261.9" cy="159.6" r="2.65" fill="#000"/>
<circle cx="258.9" cy="161.9" r="2.65" fill="#000"/>
<line x1="251.4" y1="113" x2="265.8" y2="113" stroke="#000" stroke-width="1.8"/>
<circle cx="277.4" cy="166.3" r="2.65" fill="#000"/>
<circle cx="280.8" cy="166.3" r="2.65" fill="#000"/>
<circle cx="283.6" cy="166.3" r="2.65" fill="#000"/>
<circle cx="279.7" cy="161.4" r="2.65" fill="#000"/>
<circle cx="298.2" cy="166.3" r="2.65" fill="#000"/>
<circle cx="301.6" cy="166.3" r="2.65" fill="#000"/>
<circle cx="305.1" cy="166.3" r="2.65" fill="#000"/>
<text x="282.1" y="151.8" font-size="10" text-anchor="middle" font-weight="bold" stroke="#000" stroke-width="0.3">**</text>
<text x="301.9" y="151.8" font-size="10" text-anchor="middle" font-weight="bold" stroke="#000" stroke-width="0.3">*</text>
<circle cx="323.1" cy="69.7" r="2.65" fill="#000"/>
<circle cx="319.7" cy="80.5" r="2.65" fill="#000"/>
<circle cx="326.6" cy="77.7" r="2.65" fill="#000"/>
<circle cx="322.7" cy="84.7" r="2.65" fill="#000"/>
<circle cx="326.6" cy="88.8" r="2.65" fill="#000"/>
<circle cx="319.7" cy="94.4" r="2.65" fill="#000"/>
<line x1="316.2" y1="81.9" x2="330.5" y2="81.9" stroke="#000" stroke-width="1.8"/>
<circle cx="344.4" cy="118" r="2.65" fill="#000"/>
<circle cx="344.8" cy="140.2" r="2.65" fill="#000"/>
<circle cx="341" cy="148.3" r="2.65" fill="#000"/>
<circle cx="348.1" cy="147.5" r="2.65" fill="#000"/>
<circle cx="348.1" cy="153.8" r="2.65" fill="#000"/>
<circle cx="342" cy="158.3" r="2.65" fill="#000"/>
<circle cx="345.4" cy="159.2" r="2.65" fill="#000"/>
<circle cx="343.8" cy="162.8" r="2.65" fill="#000"/>
<circle cx="347.6" cy="163.3" r="2.65" fill="#000"/>
<circle cx="340.3" cy="166.3" r="2.65" fill="#000"/>
<circle cx="343.6" cy="166.3" r="2.65" fill="#000"/>
<circle cx="346.9" cy="166.3" r="2.65" fill="#000"/>
<circle cx="349.8" cy="166.3" r="2.65" fill="#000"/>
<line x1="337.4" y1="158.9" x2="352" y2="158.9" stroke="#000" stroke-width="1.8"/>
<text x="261" y="173.3" font-size="10.2" text-anchor="end" font-weight="normal" stroke="#000" stroke-width="0.3" transform="rotate(-42 261 173.3)">P-1<tspan dy="-3" font-size="6.3">Met</tspan></text>
<text x="282.3" y="176.5" font-size="10.2" text-anchor="end" font-weight="normal" stroke="#000" stroke-width="0.3" transform="rotate(-42 282.3 176.5)">P-1<tspan dy="-3" font-size="6.3">Met</tspan><tspan dy="3">NAC</tspan></text>
<text x="307.5" y="176.8" font-size="10.2" text-anchor="end" font-weight="normal" stroke="#000" stroke-width="0.3" transform="rotate(-42 307.5 176.8)">P-1<tspan dy="-3" font-size="6.3">Met</tspan><tspan dy="3">+GSH</tspan></text>
<text x="327.3" y="176.5" font-size="10.2" text-anchor="end" font-weight="normal" stroke="#000" stroke-width="0.3" transform="rotate(-42 327.3 176.5)">P-1<tspan dy="-3" font-size="6.3">Met</tspan><tspan dy="3">+BSO</tspan></text>
<text x="350" y="176.8" font-size="10.3" text-anchor="end" font-weight="normal" stroke="#000" stroke-width="0.3" transform="rotate(-41 350 176.8)">nutlin3a</text>
<text x="379" y="11.6" font-size="13.5" text-anchor="start" font-weight="bold" stroke="#000" stroke-width="0.3">C</text>
<text x="398" y="12" font-size="13.65" text-anchor="start" font-weight="bold" stroke="#000" stroke-width="0.3">(PRIMA-1<tspan dy="-4.2" font-size="8.2">Met</tspan><tspan dy="4.2">)</tspan></text>
<line x1="414.7" y1="52.99999999999999" x2="414.7" y2="167.0" stroke="#000" stroke-width="1.7"/>
<line x1="413.8" y1="166.1" x2="496" y2="166.1" stroke="#000" stroke-width="1.7"/>
<line x1="410.7" y1="166.1" x2="414.7" y2="166.1" stroke="#000" stroke-width="1.5"/>
<text x="409.7" y="169.2" font-size="9.0" text-anchor="end" font-weight="normal" stroke="#000" stroke-width="0.3">0</text>
<line x1="410.7" y1="143.6" x2="414.7" y2="143.6" stroke="#000" stroke-width="1.5"/>
<text x="409.7" y="146.7" font-size="9.0" text-anchor="end" font-weight="normal" stroke="#000" stroke-width="0.3">20</text>
<line x1="410.7" y1="121.1" x2="414.7" y2="121.1" stroke="#000" stroke-width="1.5"/>
<text x="409.7" y="124.19999999999999" font-size="9.0" text-anchor="end" font-weight="normal" stroke="#000" stroke-width="0.3">40</text>
<line x1="410.7" y1="98.6" x2="414.7" y2="98.6" stroke="#000" stroke-width="1.5"/>
<text x="409.7" y="101.69999999999999" font-size="9.0" text-anchor="end" font-weight="normal" stroke="#000" stroke-width="0.3">60</text>
<line x1="410.7" y1="76.1" x2="414.7" y2="76.1" stroke="#000" stroke-width="1.5"/>
<text x="409.7" y="79.19999999999999" font-size="9.0" text-anchor="end" font-weight="normal" stroke="#000" stroke-width="0.3">80</text>
<line x1="410.7" y1="53.599999999999994" x2="414.7" y2="53.599999999999994" stroke="#000" stroke-width="1.5"/>
<text x="409.7" y="56.699999999999996" font-size="9.0" text-anchor="end" font-weight="normal" stroke="#000" stroke-width="0.3">100</text>
<text x="389.3" y="108.5" font-size="10.8" text-anchor="middle" font-weight="normal" stroke="#000" stroke-width="0.3" transform="rotate(-90 389.3 108.5)">Cell death (%)</text>
<text x="454" y="33.2" font-size="9.5" text-anchor="middle" font-weight="normal" stroke="#000" stroke-width="0.3">p=0.24</text>
<line x1="433.75" y1="43.2" x2="475.5" y2="43.2" stroke="#000" stroke-width="1.7"/>
<line x1="433.75" y1="39.800000000000004" x2="433.75" y2="46.6" stroke="#000" stroke-width="1.7"/>
<line x1="475.5" y1="39.800000000000004" x2="475.5" y2="46.6" stroke="#000" stroke-width="1.7"/>
<circle cx="424.25" cy="53.75" r="2.65" fill="#000"/>
<circle cx="444.5" cy="53.75" r="2.65" fill="#000"/>
<circle cx="431.25" cy="60.75" r="2.65" fill="#000"/>
<circle cx="438" cy="58" r="2.65" fill="#000"/>
<circle cx="431.25" cy="74.25" r="2.65" fill="#000"/>
<circle cx="437.5" cy="76.25" r="2.65" fill="#000"/>
<circle cx="434.5" cy="86.25" r="2.65" fill="#000"/>
<circle cx="434.5" cy="104.5" r="2.65" fill="#000"/>
<circle cx="438" cy="133.75" r="2.65" fill="#000"/>
<circle cx="431.25" cy="138.25" r="2.65" fill="#000"/>
<circle cx="427.5" cy="150.75" r="2.65" fill="#000"/>
<circle cx="441.25" cy="149.5" r="2.65" fill="#000"/>
<circle cx="434.5" cy="152" r="2.65" fill="#000"/>
<circle cx="427.5" cy="155.5" r="2.65" fill="#000"/>
<circle cx="441.25" cy="158.75" r="2.65" fill="#000"/>
<circle cx="434.5" cy="161.25" r="2.65" fill="#000"/>
<line x1="421.25" y1="119.25" x2="448" y2="119.25" stroke="#000" stroke-width="1.8"/>
<circle cx="471.75" cy="55.75" r="2.65" fill="#000"/>
<circle cx="478.25" cy="56.75" r="2.65" fill="#000"/>
<circle cx="475" cy="68.25" r="2.65" fill="#000"/>
<circle cx="475" cy="77.5" r="2.65" fill="#000"/>
<circle cx="468.25" cy="110" r="2.65" fill="#000"/>
<circle cx="475" cy="115.75" r="2.65" fill="#000"/>
<circle cx="481.75" cy="114.5" r="2.65" fill="#000"/>
<line x1="461.25" y1="77.3" x2="488.75" y2="77.3" stroke="#000" stroke-width="1.8"/>
<text x="434" y="177" font-size="9.2" text-anchor="middle" font-weight="normal" stroke="#000" stroke-width="0.3">del17p-</text>
<text x="474.8" y="177" font-size="9.2" text-anchor="middle" font-weight="normal" stroke="#000" stroke-width="0.3">del17p+</text>
<text x="3.6" y="237.7" font-size="14.5" text-anchor="start" font-weight="bold" stroke="#000" stroke-width="0.3">D</text>
<text x="30" y="237.8" font-size="13.3" text-anchor="start" font-weight="bold" stroke="#000" stroke-width="0.3">(all)</text>
<line x1="52.9" y1="261.60336832259975" x2="52.9" y2="381.69663167740015" stroke="#000" stroke-width="1.7"/>
<line x1="52.0" y1="380.79663167740017" x2="155.5" y2="380.79663167740017" stroke="#000" stroke-width="1.7"/>
<line x1="48.9" y1="358.4" x2="52.9" y2="358.4" stroke="#000" stroke-width="1.5"/>
<text transform="translate(48.3 362.0) scale(0.86 1)" font-size="10.2" text-anchor="end" font-weight="normal" stroke="#000" stroke-width="0.38">1</text>
<line x1="48.9" y1="284.0" x2="52.9" y2="284.0" stroke="#000" stroke-width="1.5"/>
<text transform="translate(48.3 287.6) scale(0.86 1)" font-size="10.2" text-anchor="end" font-weight="normal" stroke="#000" stroke-width="0.38">10</text>
<line x1="50.6" y1="336.0033683225998" x2="52.9" y2="336.0033683225998" stroke="#000" stroke-width="1.1"/>
<line x1="50.6" y1="322.9021786488571" x2="52.9" y2="322.9021786488571" stroke="#000" stroke-width="1.1"/>
<line x1="50.6" y1="313.6067366451996" x2="52.9" y2="313.6067366451996" stroke="#000" stroke-width="1.1"/>
<line x1="50.6" y1="306.3966316774002" x2="52.9" y2="306.3966316774002" stroke="#000" stroke-width="1.1"/>
<line x1="50.6" y1="300.5055469714569" x2="52.9" y2="300.5055469714569" stroke="#000" stroke-width="1.1"/>
<line x1="50.6" y1="295.52470582293927" x2="52.9" y2="295.52470582293927" stroke="#000" stroke-width="1.1"/>
<line x1="50.6" y1="291.21010496779934" x2="52.9" y2="291.21010496779934" stroke="#000" stroke-width="1.1"/>
<line x1="50.6" y1="287.4043572977142" x2="52.9" y2="287.4043572977142" stroke="#000" stroke-width="1.1"/>
<line x1="50.6" y1="261.60336832259975" x2="52.9" y2="261.60336832259975" stroke="#000" stroke-width="1.1"/>
<text transform="translate(27.4 318.2) rotate(-90) scale(1.085 1)" font-size="9.2" text-anchor="middle" font-weight="normal" stroke="#000" stroke-width="0.38">DR5 expression</text>
<text x="106.3" y="269.3" font-size="9.8" text-anchor="middle" font-weight="normal" stroke="#000" stroke-width="0.38">p=0.0009</text>
<line x1="70.5" y1="275.1" x2="139.8" y2="275.1" stroke="#000" stroke-width="1.7"/>
<line x1="70.5" y1="271.0" x2="70.5" y2="279.20000000000005" stroke="#000" stroke-width="1.7"/>
<line x1="139.8" y1="271.0" x2="139.8" y2="279.20000000000005" stroke="#000" stroke-width="1.7"/>
<text x="89.6" y="292.3" font-size="9.8" text-anchor="middle" font-weight="normal" stroke="#000" stroke-width="0.38">p=0.0166</text>
<line x1="70.5" y1="302.7" x2="103.3" y2="302.7" stroke="#000" stroke-width="1.7"/>
<line x1="70.5" y1="298.59999999999997" x2="70.5" y2="306.8" stroke="#000" stroke-width="1.7"/>
<line x1="103.3" y1="298.59999999999997" x2="103.3" y2="306.8" stroke="#000" stroke-width="1.7"/>
<circle cx="70.1" cy="311" r="2.65" fill="#000"/>
<circle cx="63.1" cy="321.2" r="2.65" fill="#000"/>
<circle cx="77.5" cy="321.2" r="2.65" fill="#000"/>
<circle cx="70.1" cy="325.8" r="2.65" fill="#000"/>
<circle cx="70.1" cy="341.7" r="2.65" fill="#000"/>
<circle cx="70.7" cy="344.6" r="2.65" fill="#000"/>
<circle cx="64.8" cy="347.8" r="2.65" fill="#000"/>
<circle cx="76.4" cy="348.4" r="2.65" fill="#000"/>
<circle cx="66.9" cy="353.2" r="2.65" fill="#000"/>
<circle cx="73.7" cy="354.2" r="2.65" fill="#000"/>
<circle cx="68" cy="356.3" r="2.65" fill="#000"/>
<circle cx="74.3" cy="357" r="2.65" fill="#000"/>
<circle cx="66.5" cy="360" r="2.65" fill="#000"/>
<circle cx="66.9" cy="333.8" r="2.55" fill="#fff" stroke="#000" stroke-width="1.5"/>
<circle cx="73.7" cy="333.8" r="2.55" fill="#fff" stroke="#000" stroke-width="1.5"/>
<circle cx="63.1" cy="350.5" r="2.55" fill="#fff" stroke="#000" stroke-width="1.5"/>
<circle cx="70.1" cy="351.6" r="2.55" fill="#fff" stroke="#000" stroke-width="1.5"/>
<circle cx="77.1" cy="351" r="2.55" fill="#fff" stroke="#000" stroke-width="1.5"/>
<line x1="58.9" y1="347.2" x2="81.7" y2="347.2" stroke="#000" stroke-width="1.8"/>
<circle cx="108.2" cy="321.2" r="2.65" fill="#000"/>
<circle cx="100.8" cy="327.9" r="2.65" fill="#000"/>
<circle cx="108.6" cy="338.1" r="2.65" fill="#000"/>
<circle cx="101.4" cy="344.4" r="2.65" fill="#000"/>
<circle cx="106.7" cy="345.5" r="2.65" fill="#000"/>
<circle cx="99.1" cy="350.6" r="2.65" fill="#000"/>
<circle cx="103.9" cy="351" r="2.65" fill="#000"/>
<circle cx="109.2" cy="350.6" r="2.65" fill="#000"/>
<circle cx="97.6" cy="355.6" r="2.65" fill="#000"/>
<circle cx="102.9" cy="354.8" r="2.65" fill="#000"/>
<circle cx="110.3" cy="355.6" r="2.65" fill="#000"/>
<circle cx="99.7" cy="356.5" r="2.65" fill="#000"/>
<circle cx="111.8" cy="359" r="2.65" fill="#000"/>
<circle cx="104.6" cy="336" r="2.55" fill="#fff" stroke="#000" stroke-width="1.5"/>
<circle cx="107.5" cy="348.5" r="2.55" fill="#fff" stroke="#000" stroke-width="1.5"/>
<circle cx="104.6" cy="359" r="2.55" fill="#fff" stroke="#000" stroke-width="1.5"/>
<line x1="93.4" y1="349.7" x2="116" y2="349.7" stroke="#000" stroke-width="1.8"/>
<circle cx="135.3" cy="284.2" r="2.65" fill="#000"/>
<circle cx="142.4" cy="290.1" r="2.65" fill="#000"/>
<circle cx="135.3" cy="314.8" r="2.65" fill="#000"/>
<circle cx="142.4" cy="314.8" r="2.65" fill="#000"/>
<circle cx="131.4" cy="329.6" r="2.65" fill="#000"/>
<circle cx="131.4" cy="337" r="2.65" fill="#000"/>
<circle cx="138.9" cy="338.5" r="2.65" fill="#000"/>
<circle cx="146.3" cy="337.7" r="2.65" fill="#000"/>
<circle cx="146.3" cy="342.9" r="2.65" fill="#000"/>
<circle cx="131.4" cy="343.8" r="2.65" fill="#000"/>
<circle cx="131.4" cy="348.9" r="2.65" fill="#000"/>
<circle cx="138.9" cy="331.3" r="2.55" fill="#fff" stroke="#000" stroke-width="1.5"/>
<circle cx="146.3" cy="328.6" r="2.55" fill="#fff" stroke="#000" stroke-width="1.5"/>
<circle cx="138.9" cy="343.2" r="2.55" fill="#fff" stroke="#000" stroke-width="1.5"/>
<circle cx="138.9" cy="348.5" r="2.55" fill="#fff" stroke="#000" stroke-width="1.5"/>
<circle cx="146.3" cy="350.5" r="2.55" fill="#fff" stroke="#000" stroke-width="1.5"/>
<circle cx="138.9" cy="355.6" r="2.55" fill="#fff" stroke="#000" stroke-width="1.5"/>
<line x1="127.2" y1="337.4" x2="150.5" y2="337.4" stroke="#000" stroke-width="1.8"/>
<text x="72.3" y="389.3" font-size="9.8" text-anchor="end" font-weight="normal" stroke="#000" stroke-width="0.38" transform="rotate(-45 72.3 389.3)">control</text>
<text x="106.8" y="389.3" font-size="9.9" text-anchor="end" font-weight="normal" stroke="#000" stroke-width="0.38" transform="rotate(-45 106.8 389.3)">PRIMA-1<tspan dy="-3.2" font-size="7">Met</tspan></text>
<text x="140.5" y="389.5" font-size="9.9" text-anchor="end" font-weight="normal" stroke="#000" stroke-width="0.38" transform="rotate(-45 140.5 389.5)">nutlin3a</text>
<text transform="translate(201.5 237.8) scale(1 1.08)" font-size="13.8" text-anchor="start" font-weight="bold" stroke="#000" stroke-width="0.3">E</text>
<text transform="translate(230 238.3) scale(1 1.1)" font-size="13.2" text-anchor="start" font-weight="bold" stroke="#000" stroke-width="0.3">(del17p-)</text>
<line x1="246.8" y1="259.4227503252014" x2="246.8" y2="380.47724967479854" stroke="#000" stroke-width="1.7"/>
<line x1="245.9" y1="379.57724967479857" x2="351" y2="379.57724967479857" stroke="#000" stroke-width="1.7"/>
<line x1="242.8" y1="357.0" x2="246.8" y2="357.0" stroke="#000" stroke-width="1.5"/>
<text transform="translate(242.20000000000002 360.6) scale(0.86 1)" font-size="10.2" text-anchor="end" font-weight="normal" stroke="#000" stroke-width="0.38">1</text>
<line x1="242.8" y1="282.0" x2="246.8" y2="282.0" stroke="#000" stroke-width="1.5"/>
<text transform="translate(242.20000000000002 285.6) scale(0.86 1)" font-size="10.2" text-anchor="end" font-weight="normal" stroke="#000" stroke-width="0.38">10</text>
<line x1="244.5" y1="334.42275032520143" x2="246.8" y2="334.42275032520143" stroke="#000" stroke-width="1.1"/>
<line x1="244.5" y1="321.21590589602533" x2="246.8" y2="321.21590589602533" stroke="#000" stroke-width="1.1"/>
<line x1="244.5" y1="311.8455006504028" x2="246.8" y2="311.8455006504028" stroke="#000" stroke-width="1.1"/>
<line x1="244.5" y1="304.57724967479857" x2="246.8" y2="304.57724967479857" stroke="#000" stroke-width="1.1"/>
<line x1="244.5" y1="298.6386562212267" x2="246.8" y2="298.6386562212267" stroke="#000" stroke-width="1.1"/>
<line x1="244.5" y1="293.61764699893075" x2="246.8" y2="293.61764699893075" stroke="#000" stroke-width="1.1"/>
<line x1="244.5" y1="289.26825097560425" x2="246.8" y2="289.26825097560425" stroke="#000" stroke-width="1.1"/>
<line x1="244.5" y1="285.43181179205067" x2="246.8" y2="285.43181179205067" stroke="#000" stroke-width="1.1"/>
<line x1="244.5" y1="259.4227503252014" x2="246.8" y2="259.4227503252014" stroke="#000" stroke-width="1.1"/>
<text transform="translate(221 316.8) rotate(-90) scale(1.085 1)" font-size="9.2" text-anchor="middle" font-weight="normal" stroke="#000" stroke-width="0.38">DR5 expression</text>
<text x="298.4" y="266" font-size="9.9" text-anchor="middle" font-weight="normal" stroke="#000" stroke-width="0.38">p=0.0010</text>
<line x1="265.4" y1="273.2" x2="332.9" y2="273.2" stroke="#000" stroke-width="1.7"/>
<line x1="265.4" y1="269.8" x2="265.4" y2="276.59999999999997" stroke="#000" stroke-width="1.7"/>
<line x1="332.9" y1="269.8" x2="332.9" y2="276.59999999999997" stroke="#000" stroke-width="1.7"/>
<text x="283.3" y="291" font-size="9.9" text-anchor="middle" font-weight="normal" stroke="#000" stroke-width="0.38">p=0.094</text>
<line x1="265.4" y1="298.9" x2="299" y2="298.9" stroke="#000" stroke-width="1.7"/>
<line x1="265.4" y1="295.5" x2="265.4" y2="302.29999999999995" stroke="#000" stroke-width="1.7"/>
<line x1="299" y1="295.5" x2="299" y2="302.29999999999995" stroke="#000" stroke-width="1.7"/>
<circle cx="264.2" cy="309" r="2.65" fill="#000"/>
<circle cx="257.6" cy="320.5" r="2.65" fill="#000"/>
<circle cx="271.1" cy="319.7" r="2.65" fill="#000"/>
<circle cx="264.2" cy="322.5" r="2.65" fill="#000"/>
<circle cx="264.2" cy="340.1" r="2.65" fill="#000"/>
<circle cx="257.6" cy="344.4" r="2.65" fill="#000"/>
<circle cx="271.1" cy="343.6" r="2.65" fill="#000"/>
<circle cx="261.3" cy="346.5" r="2.65" fill="#000"/>
<circle cx="257.6" cy="350.2" r="2.65" fill="#000"/>
<circle cx="271.1" cy="348.8" r="2.65" fill="#000"/>
<circle cx="264.2" cy="353.7" r="2.65" fill="#000"/>
<circle cx="257.6" cy="358.8" r="2.65" fill="#000"/>
<circle cx="264.2" cy="359.4" r="2.65" fill="#000"/>
<circle cx="271.1" cy="356" r="2.65" fill="#000"/>
<line x1="252.7" y1="344.4" x2="276.3" y2="344.4" stroke="#000" stroke-width="1.8"/>
<circle cx="295.9" cy="319.7" r="2.65" fill="#000"/>
<circle cx="302.8" cy="326.3" r="2.65" fill="#000"/>
<circle cx="302.8" cy="336.4" r="2.65" fill="#000"/>
<circle cx="295.9" cy="342.1" r="2.65" fill="#000"/>
<circle cx="292.1" cy="347.9" r="2.65" fill="#000"/>
<circle cx="299.3" cy="346.5" r="2.65" fill="#000"/>
<circle cx="306.5" cy="347.9" r="2.65" fill="#000"/>
<circle cx="295.9" cy="351.6" r="2.65" fill="#000"/>
<circle cx="302.8" cy="351.6" r="2.65" fill="#000"/>
<circle cx="295.9" cy="357.4" r="2.65" fill="#000"/>
<circle cx="302.8" cy="353.7" r="2.65" fill="#000"/>
<line x1="287.8" y1="348.5" x2="310.9" y2="348.5" stroke="#000" stroke-width="1.8"/>
<circle cx="337.4" cy="281.6" r="2.65" fill="#000"/>
<circle cx="330.5" cy="288" r="2.65" fill="#000"/>
<circle cx="330.5" cy="312.4" r="2.65" fill="#000"/>
<circle cx="337.4" cy="312.4" r="2.65" fill="#000"/>
<circle cx="333.9" cy="327.7" r="2.65" fill="#000"/>
<circle cx="326.7" cy="335.5" r="2.65" fill="#000"/>
<circle cx="333.9" cy="335.5" r="2.65" fill="#000"/>
<circle cx="341.1" cy="335.5" r="2.65" fill="#000"/>
<circle cx="326.7" cy="341" r="2.65" fill="#000"/>
<circle cx="334.1" cy="347" r="2.65" fill="#000"/>
<circle cx="341.3" cy="342.3" r="2.65" fill="#000"/>
<line x1="322.4" y1="335.5" x2="345.4" y2="335.5" stroke="#000" stroke-width="1.8"/>
<text x="266.3" y="389.5" font-size="10" text-anchor="end" font-weight="normal" stroke="#000" stroke-width="0.38" transform="rotate(-45 266.3 389.5)">Control</text>
<text x="301" y="389.3" font-size="10.3" text-anchor="end" font-weight="normal" stroke="#000" stroke-width="0.38" transform="rotate(-45 301 389.3)">PRIMA-1<tspan dy="-3.2" font-size="7">Met</tspan></text>
<text x="335.5" y="389.8" font-size="10" text-anchor="end" font-weight="normal" stroke="#000" stroke-width="0.38" transform="rotate(-45 335.5 389.8)">Nutlin3a</text>
<text x="379" y="237.8" font-size="13.8" text-anchor="start" font-weight="bold" stroke="#000" stroke-width="0.3">F</text>
<text transform="translate(396.5 238.3) scale(1 1.05)" font-size="13.5" text-anchor="start" font-weight="bold" stroke="#000" stroke-width="0.3">(del17p+)</text>
<line x1="416" y1="258.83244132650225" x2="416" y2="380.3675586734978" stroke="#000" stroke-width="1.7"/>
<line x1="415.1" y1="379.4675586734978" x2="520" y2="379.4675586734978" stroke="#000" stroke-width="1.7"/>
<line x1="412" y1="356.8" x2="416" y2="356.8" stroke="#000" stroke-width="1.5"/>
<text transform="translate(411.4 360.40000000000003) scale(0.86 1)" font-size="10.2" text-anchor="end" font-weight="normal" stroke="#000" stroke-width="0.38">1</text>
<line x1="412" y1="281.5" x2="416" y2="281.5" stroke="#000" stroke-width="1.5"/>
<text transform="translate(411.4 285.1) scale(0.86 1)" font-size="10.2" text-anchor="end" font-weight="normal" stroke="#000" stroke-width="0.38">10</text>
<line x1="413.7" y1="334.1324413265022" x2="416" y2="334.1324413265022" stroke="#000" stroke-width="1.1"/>
<line x1="413.7" y1="320.87276951960945" x2="416" y2="320.87276951960945" stroke="#000" stroke-width="1.1"/>
<line x1="413.7" y1="311.46488265300445" x2="416" y2="311.46488265300445" stroke="#000" stroke-width="1.1"/>
<line x1="413.7" y1="304.1675586734978" x2="416" y2="304.1675586734978" stroke="#000" stroke-width="1.1"/>
<line x1="413.7" y1="298.20521084611164" x2="416" y2="298.20521084611164" stroke="#000" stroke-width="1.1"/>
<line x1="413.7" y1="293.16411758692647" x2="416" y2="293.16411758692647" stroke="#000" stroke-width="1.1"/>
<line x1="413.7" y1="288.7973239795067" x2="416" y2="288.7973239795067" stroke="#000" stroke-width="1.1"/>
<line x1="413.7" y1="284.94553903921883" x2="416" y2="284.94553903921883" stroke="#000" stroke-width="1.1"/>
<line x1="413.7" y1="258.83244132650225" x2="416" y2="258.83244132650225" stroke="#000" stroke-width="1.1"/>
<text transform="translate(389.2 316.5) rotate(-90) scale(1.085 1)" font-size="9.2" text-anchor="middle" font-weight="normal" stroke="#000" stroke-width="0.38">DR5 expression</text>
<text x="469.5" y="284.5" font-size="9.9" text-anchor="middle" font-weight="normal" stroke="#000" stroke-width="0.38">p=0.313</text>
<line x1="433.4" y1="291.2" x2="503" y2="291.2" stroke="#000" stroke-width="1.7"/>
<line x1="433.4" y1="287.8" x2="433.4" y2="294.59999999999997" stroke="#000" stroke-width="1.7"/>
<line x1="503" y1="287.8" x2="503" y2="294.59999999999997" stroke="#000" stroke-width="1.7"/>
<text x="451.2" y="309.2" font-size="9.9" text-anchor="middle" font-weight="normal" stroke="#000" stroke-width="0.38">p=0.063</text>
<line x1="433.4" y1="319" x2="467.4" y2="319" stroke="#000" stroke-width="1.7"/>
<line x1="433.4" y1="315.6" x2="433.4" y2="322.4" stroke="#000" stroke-width="1.7"/>
<line x1="467.4" y1="315.6" x2="467.4" y2="322.4" stroke="#000" stroke-width="1.7"/>
<circle cx="430.6" cy="333" r="2.55" fill="#fff" stroke="#000" stroke-width="1.5"/>
<circle cx="437.4" cy="333" r="2.55" fill="#fff" stroke="#000" stroke-width="1.5"/>
<circle cx="425.6" cy="347" r="2.55" fill="#fff" stroke="#000" stroke-width="1.5"/>
<circle cx="439.9" cy="350" r="2.55" fill="#fff" stroke="#000" stroke-width="1.5"/>
<circle cx="432.8" cy="353.1" r="2.55" fill="#fff" stroke="#000" stroke-width="1.5"/>
<line x1="422" y1="347" x2="444.2" y2="347" stroke="#000" stroke-width="1.8"/>
<circle cx="467.4" cy="334.6" r="2.55" fill="#fff" stroke="#000" stroke-width="1.5"/>
<circle cx="467.4" cy="345.4" r="2.55" fill="#fff" stroke="#000" stroke-width="1.5"/>
<circle cx="459.7" cy="353.1" r="2.55" fill="#fff" stroke="#000" stroke-width="1.5"/>
<circle cx="474.6" cy="353.1" r="2.55" fill="#fff" stroke="#000" stroke-width="1.5"/>
<circle cx="467.4" cy="357.2" r="2.55" fill="#fff" stroke="#000" stroke-width="1.5"/>
<line x1="456.6" y1="353.1" x2="479.2" y2="353.1" stroke="#000" stroke-width="1.8"/>
<circle cx="499.3" cy="329" r="2.55" fill="#fff" stroke="#000" stroke-width="1.5"/>
<circle cx="506.1" cy="327.4" r="2.55" fill="#fff" stroke="#000" stroke-width="1.5"/>
<circle cx="502.4" cy="345.4" r="2.55" fill="#fff" stroke="#000" stroke-width="1.5"/>
<circle cx="506.1" cy="348.5" r="2.55" fill="#fff" stroke="#000" stroke-width="1.5"/>
<circle cx="499.3" cy="353.7" r="2.55" fill="#fff" stroke="#000" stroke-width="1.5"/>
<line x1="491.6" y1="345.4" x2="514.2" y2="345.4" stroke="#000" stroke-width="1.8"/>
<text x="435" y="389.3" font-size="9.8" text-anchor="end" font-weight="normal" stroke="#000" stroke-width="0.38" transform="rotate(-45 435 389.3)">control</text>
<text x="469" y="389.3" font-size="9.9" text-anchor="end" font-weight="normal" stroke="#000" stroke-width="0.38" transform="rotate(-45 469 389.3)">PRIMA-1<tspan dy="-3.2" font-size="7">Met</tspan></text>
<text x="505" y="389.5" font-size="9.9" text-anchor="end" font-weight="normal" stroke="#000" stroke-width="0.38" transform="rotate(-45 505 389.5)">nutlin3a</text>
<text x="3.3" y="450.7" font-size="14.3" text-anchor="start" font-weight="bold" stroke="#000" stroke-width="0.3">G</text>
<text x="31" y="452.3" font-size="13.55" text-anchor="start" font-weight="bold" stroke="#000" stroke-width="0.3">(PRIMA-1<tspan dy="-4.6" font-size="8.6">Met</tspan><tspan dy="4.6">)</tspan></text>
<line x1="56.6" y1="476.60417808655757" x2="56.6" y2="606.9" stroke="#000" stroke-width="1.7"/>
<line x1="55.7" y1="606.0" x2="161" y2="606.0" stroke="#000" stroke-width="1.7"/>
<line x1="52.1" y1="606.0" x2="56.6" y2="606.0" stroke="#000" stroke-width="1.5"/>
<text x="51.800000000000004" y="609.9" font-size="11" text-anchor="end" font-weight="normal" stroke="#000" stroke-width="0.4">0.1</text>
<line x1="52.1" y1="518.4" x2="56.6" y2="518.4" stroke="#000" stroke-width="1.5"/>
<text x="51.800000000000004" y="522.3" font-size="11" text-anchor="end" font-weight="normal" stroke="#000" stroke-width="0.4">1</text>
<line x1="52.1" y1="492.0297723798352" x2="56.6" y2="492.0297723798352" stroke="#000" stroke-width="1.5"/>
<text x="51.800000000000004" y="495.9297723798352" font-size="11" text-anchor="end" font-weight="normal" stroke="#000" stroke-width="0.4">2</text>
<line x1="54.0" y1="579.6297723798352" x2="56.6" y2="579.6297723798352" stroke="#000" stroke-width="1.2"/>
<line x1="54.0" y1="564.2041780865576" x2="56.6" y2="564.2041780865576" stroke="#000" stroke-width="1.2"/>
<line x1="54.0" y1="553.2595447596705" x2="56.6" y2="553.2595447596705" stroke="#000" stroke-width="1.2"/>
<line x1="54.0" y1="544.7702276201647" x2="56.6" y2="544.7702276201647" stroke="#000" stroke-width="1.2"/>
<line x1="54.0" y1="537.8339504663928" x2="56.6" y2="537.8339504663928" stroke="#000" stroke-width="1.2"/>
<line x1="54.0" y1="531.9694116947511" x2="56.6" y2="531.9694116947511" stroke="#000" stroke-width="1.2"/>
<line x1="54.0" y1="526.8893171395057" x2="56.6" y2="526.8893171395057" stroke="#000" stroke-width="1.2"/>
<line x1="54.0" y1="522.4083561731151" x2="56.6" y2="522.4083561731151" stroke="#000" stroke-width="1.2"/>
<line x1="54.0" y1="476.60417808655757" x2="56.6" y2="476.60417808655757" stroke="#000" stroke-width="1.2"/>
<line x1="66.0" y1="606.0" x2="66.0" y2="610.7" stroke="#000" stroke-width="1.5"/>
<text x="66.0" y="622.0" font-size="11" text-anchor="middle" font-weight="normal" stroke="#000" stroke-width="0.4">0</text>
<line x1="113.15" y1="606.0" x2="113.15" y2="610.7" stroke="#000" stroke-width="1.5"/>
<text x="113.15" y="622.0" font-size="11" text-anchor="middle" font-weight="normal" stroke="#000" stroke-width="0.4">50</text>
<line x1="160.3" y1="606.0" x2="160.3" y2="610.7" stroke="#000" stroke-width="1.5"/>
<text x="160.3" y="622.0" font-size="11" text-anchor="middle" font-weight="normal" stroke="#000" stroke-width="0.4">100</text>
<text x="23.2" y="539" font-size="11.1" text-anchor="middle" font-weight="normal" stroke="#000" stroke-width="0.4" transform="rotate(-90 23.2 539)">DR5 expression</text>
<text x="34.9" y="539.8" font-size="11.1" text-anchor="middle" font-weight="normal" stroke="#000" stroke-width="0.4" transform="rotate(-90 34.9 539.8)">(fold-increase)</text>
<text x="118" y="496.7" font-size="11.1" text-anchor="middle" font-weight="normal" stroke="#000" stroke-width="0.4">p=0.23</text>
<text x="117.5" y="508.7" font-size="11.1" text-anchor="middle" font-weight="normal" stroke="#000" stroke-width="0.4">r=-0.2974</text>
<circle cx="66" cy="506" r="2.9" fill="#000"/>
<circle cx="71.4" cy="513" r="2.9" fill="#000"/>
<circle cx="66" cy="518.4" r="2.9" fill="#000"/>
<circle cx="66" cy="522.3" r="2.9" fill="#000"/>
<circle cx="72.6" cy="521.2" r="2.9" fill="#000"/>
<circle cx="68.4" cy="524" r="2.9" fill="#000"/>
<circle cx="71.4" cy="530.5" r="2.9" fill="#000"/>
<circle cx="66" cy="551.4" r="2.9" fill="#000"/>
<circle cx="102.9" cy="536.9" r="2.9" fill="#000"/>
<circle cx="117.9" cy="533.5" r="2.9" fill="#000"/>
<circle cx="130.3" cy="518.5" r="2.9" fill="#000"/>
<circle cx="149.6" cy="521.1" r="2.9" fill="#000"/>
<circle cx="155.9" cy="520" r="2.9" fill="#000"/>
<circle cx="157.4" cy="530" r="2.9" fill="#000"/>
<text x="109.5" y="642.7" font-size="11" text-anchor="middle" font-weight="normal" stroke="#000" stroke-width="0.4">del(17p)+ fraction</text>
<text x="201.2" y="450.5" font-size="14.3" text-anchor="start" font-weight="bold" stroke="#000" stroke-width="0.3">H</text>
<text x="230.3" y="452.3" font-size="13.3" text-anchor="start" font-weight="bold" stroke="#000" stroke-width="0.3">(nutlin3a)</text>
<line x1="251.6" y1="474.3" x2="251.6" y2="605.9" stroke="#000" stroke-width="1.7"/>
<line x1="250.7" y1="605" x2="356" y2="605" stroke="#000" stroke-width="1.7"/>
<line x1="247.6" y1="576.4" x2="251.6" y2="576.4" stroke="#000" stroke-width="1.5"/>
<text x="246.0" y="579.6999999999999" font-size="9.3" text-anchor="end" font-weight="normal" stroke="#000" stroke-width="0.4">1</text>
<line x1="247.6" y1="537.2661005636825" x2="251.6" y2="537.2661005636825" stroke="#000" stroke-width="1.5"/>
<text x="246.0" y="540.5661005636824" font-size="9.3" text-anchor="end" font-weight="normal" stroke="#000" stroke-width="0.4">2</text>
<line x1="247.6" y1="514.3742368864439" x2="251.6" y2="514.3742368864439" stroke="#000" stroke-width="1.5"/>
<text x="246.0" y="517.6742368864439" font-size="9.3" text-anchor="end" font-weight="normal" stroke="#000" stroke-width="0.4">3</text>
<line x1="247.6" y1="498.13220112736485" x2="251.6" y2="498.13220112736485" stroke="#000" stroke-width="1.5"/>
<text x="246.0" y="501.43220112736486" font-size="9.3" text-anchor="end" font-weight="normal" stroke="#000" stroke-width="0.4">4</text>
<line x1="247.6" y1="485.53389943631754" x2="251.6" y2="485.53389943631754" stroke="#000" stroke-width="1.5"/>
<text x="246.0" y="488.83389943631755" font-size="9.3" text-anchor="end" font-weight="normal" stroke="#000" stroke-width="0.4">5</text>
<line x1="260.9" y1="605" x2="260.9" y2="609.7" stroke="#000" stroke-width="1.5"/>
<text x="260.9" y="620.7" font-size="11" text-anchor="middle" font-weight="normal" stroke="#000" stroke-width="0.4">0</text>
<line x1="308.15" y1="605" x2="308.15" y2="609.7" stroke="#000" stroke-width="1.5"/>
<text x="308.15" y="620.7" font-size="11" text-anchor="middle" font-weight="normal" stroke="#000" stroke-width="0.4">50</text>
<line x1="355.4" y1="605" x2="355.4" y2="609.7" stroke="#000" stroke-width="1.5"/>
<text x="355.4" y="620.7" font-size="11" text-anchor="middle" font-weight="normal" stroke="#000" stroke-width="0.4">100</text>
<text x="209.2" y="538.8" font-size="11.1" text-anchor="middle" font-weight="normal" stroke="#000" stroke-width="0.4" transform="rotate(-90 209.2 538.8)">DR5 expression</text>
<text x="222.2" y="538" font-size="11.1" text-anchor="middle" font-weight="normal" stroke="#000" stroke-width="0.4" transform="rotate(-90 222.2 538)">(fold-increase)</text>
<text x="300.8" y="495" font-size="11.2" text-anchor="start" font-weight="normal" stroke="#000" stroke-width="0.4">p=0.0008</text>
<text x="300.8" y="507.6" font-size="11.2" text-anchor="start" font-weight="normal" stroke="#000" stroke-width="0.4">r=-0.7503</text>
<circle cx="265.4" cy="485.4" r="2.9" fill="#000"/>
<circle cx="260.9" cy="510.3" r="2.9" fill="#000"/>
<circle cx="260.9" cy="523.4" r="2.9" fill="#000"/>
<circle cx="260.9" cy="556.3" r="2.9" fill="#000"/>
<circle cx="266.8" cy="558" r="2.9" fill="#000"/>
<circle cx="260.9" cy="563.9" r="2.9" fill="#000"/>
<circle cx="266.1" cy="561.5" r="2.9" fill="#000"/>
<circle cx="297.3" cy="564.3" r="2.9" fill="#000"/>
<circle cx="312.1" cy="567.4" r="2.9" fill="#000"/>
<circle cx="325" cy="577.4" r="2.9" fill="#000"/>
<circle cx="344" cy="569.1" r="2.9" fill="#000"/>
<circle cx="349.9" cy="570.8" r="2.9" fill="#000"/>
<circle cx="351.9" cy="578.8" r="2.9" fill="#000"/>
<text x="304.7" y="642.3" font-size="11.2" text-anchor="middle" font-weight="normal" stroke="#000" stroke-width="0.4">del(17p)+ fraction</text>
<text x="379.5" y="449.8" font-size="14" text-anchor="start" font-weight="bold" stroke="#000" stroke-width="0.3">I</text>
<text x="392" y="451.9" font-size="13.4" text-anchor="start" font-weight="bold" stroke="#000" stroke-width="0.3">(del17p)</text>
<line x1="419.5" y1="478.29999999999995" x2="419.5" y2="605.5999999999999" stroke="#000" stroke-width="1.7"/>
<line x1="418.6" y1="604.6999999999999" x2="509" y2="604.6999999999999" stroke="#000" stroke-width="1.7"/>
<line x1="415.5" y1="604.6999999999999" x2="419.5" y2="604.6999999999999" stroke="#000" stroke-width="1.5"/>
<text transform="translate(414.9 608.4) scale(0.88 1)" font-size="10.4" text-anchor="end" font-weight="normal" stroke="#000" stroke-width="0.35">0.1</text>
<line x1="415.5" y1="541.8" x2="419.5" y2="541.8" stroke="#000" stroke-width="1.5"/>
<text transform="translate(414.9 545.5) scale(0.88 1)" font-size="10.4" text-anchor="end" font-weight="normal" stroke="#000" stroke-width="0.35">1</text>
<line x1="415.5" y1="478.9" x2="419.5" y2="478.9" stroke="#000" stroke-width="1.5"/>
<text transform="translate(414.9 482.59999999999997) scale(0.88 1)" font-size="10.4" text-anchor="end" font-weight="normal" stroke="#000" stroke-width="0.35">10</text>
<line x1="417.0" y1="585.7652132727355" x2="419.5" y2="585.7652132727355" stroke="#000" stroke-width="1.2"/>
<line x1="417.0" y1="574.6890730781332" x2="419.5" y2="574.6890730781332" stroke="#000" stroke-width="1.2"/>
<line x1="417.0" y1="566.8304265454711" x2="419.5" y2="566.8304265454711" stroke="#000" stroke-width="1.2"/>
<line x1="417.0" y1="560.7347867272643" x2="419.5" y2="560.7347867272643" stroke="#000" stroke-width="1.2"/>
<line x1="417.0" y1="555.7542863508687" x2="419.5" y2="555.7542863508687" stroke="#000" stroke-width="1.2"/>
<line x1="417.0" y1="551.5433332831032" x2="419.5" y2="551.5433332831032" stroke="#000" stroke-width="1.2"/>
<line x1="417.0" y1="547.8956398182067" x2="419.5" y2="547.8956398182067" stroke="#000" stroke-width="1.2"/>
<line x1="417.0" y1="544.6781461562664" x2="419.5" y2="544.6781461562664" stroke="#000" stroke-width="1.2"/>
<line x1="417.0" y1="522.8652132727356" x2="419.5" y2="522.8652132727356" stroke="#000" stroke-width="1.2"/>
<line x1="417.0" y1="511.7890730781332" x2="419.5" y2="511.7890730781332" stroke="#000" stroke-width="1.2"/>
<line x1="417.0" y1="503.9304265454711" x2="419.5" y2="503.9304265454711" stroke="#000" stroke-width="1.2"/>
<line x1="417.0" y1="497.8347867272644" x2="419.5" y2="497.8347867272644" stroke="#000" stroke-width="1.2"/>
<line x1="417.0" y1="492.8542863508688" x2="419.5" y2="492.8542863508688" stroke="#000" stroke-width="1.2"/>
<line x1="417.0" y1="488.6433332831032" x2="419.5" y2="488.6433332831032" stroke="#000" stroke-width="1.2"/>
<line x1="417.0" y1="484.9956398182067" x2="419.5" y2="484.9956398182067" stroke="#000" stroke-width="1.2"/>
<line x1="417.0" y1="481.7781461562664" x2="419.5" y2="481.7781461562664" stroke="#000" stroke-width="1.2"/>
<text x="391.8" y="539.5" font-size="10.4" text-anchor="middle" font-weight="normal" stroke="#000" stroke-width="0.35" transform="rotate(-90 391.8 539.5)">DR5 fold increase</text>
<text x="442.8" y="521.5" font-size="10" text-anchor="middle" font-weight="normal" stroke="#000" stroke-width="0.35">p=0.62</text>
<line x1="430.9" y1="533" x2="455.3" y2="533" stroke="#000" stroke-width="1.7"/>
<line x1="430.9" y1="529.3" x2="430.9" y2="536.7" stroke="#000" stroke-width="1.7"/>
<line x1="455.3" y1="529.3" x2="455.3" y2="536.7" stroke="#000" stroke-width="1.7"/>
<text x="489" y="480.3" font-size="10.1" text-anchor="middle" font-weight="normal" stroke="#000" stroke-width="0.35">p=0.002</text>
<line x1="475.4" y1="488.5" x2="498.1" y2="488.5" stroke="#000" stroke-width="1.7"/>
<line x1="475.4" y1="484.8" x2="475.4" y2="492.2" stroke="#000" stroke-width="1.7"/>
<line x1="498.1" y1="484.8" x2="498.1" y2="492.2" stroke="#000" stroke-width="1.7"/>
<circle cx="426.5" cy="533.2" r="2.6" fill="#000"/>
<circle cx="433.6" cy="538.8" r="2.6" fill="#000"/>
<circle cx="429.5" cy="542.3" r="2.6" fill="#000"/>
<circle cx="426.5" cy="543.8" r="2.6" fill="#000"/>
<circle cx="434.8" cy="543.8" r="2.6" fill="#000"/>
<circle cx="431" cy="546.5" r="2.6" fill="#000"/>
<circle cx="426.5" cy="550" r="2.6" fill="#000"/>
<circle cx="434.2" cy="550" r="2.6" fill="#000"/>
<circle cx="430.2" cy="554.8" r="2.6" fill="#000"/>
<circle cx="430" cy="565.2" r="2.6" fill="#000"/>
<line x1="424" y1="543" x2="438.5" y2="543" stroke="#000" stroke-width="1.8"/>
<circle cx="448.4" cy="543.6" r="2.4" fill="#fff" stroke="#000" stroke-width="1.5"/>
<circle cx="453.6" cy="544.4" r="2.4" fill="#fff" stroke="#000" stroke-width="1.5"/>
<circle cx="456.5" cy="541.6" r="2.4" fill="#fff" stroke="#000" stroke-width="1.5"/>
<circle cx="449.3" cy="552.2" r="2.4" fill="#fff" stroke="#000" stroke-width="1.5"/>
<circle cx="456.5" cy="550.2" r="2.4" fill="#fff" stroke="#000" stroke-width="1.5"/>
<circle cx="475.2" cy="497.5" r="2.6" fill="#000"/>
<circle cx="470.9" cy="509.9" r="2.6" fill="#000"/>
<circle cx="478.6" cy="516.8" r="2.6" fill="#000"/>
<circle cx="470.9" cy="534.9" r="2.6" fill="#000"/>
<circle cx="475.2" cy="532" r="2.6" fill="#000"/>
<circle cx="478.9" cy="534.4" r="2.6" fill="#000"/>
<circle cx="473.2" cy="536" r="2.6" fill="#000"/>
<circle cx="477.6" cy="536" r="2.6" fill="#000"/>
<line x1="469" y1="532.9" x2="481.5" y2="532.9" stroke="#000" stroke-width="1.8"/>
<circle cx="493.9" cy="537.8" r="2.4" fill="#fff" stroke="#000" stroke-width="1.5"/>
<circle cx="498.2" cy="537.2" r="2.4" fill="#fff" stroke="#000" stroke-width="1.5"/>
<circle cx="501.1" cy="539.3" r="2.4" fill="#fff" stroke="#000" stroke-width="1.5"/>
<circle cx="496.8" cy="542.1" r="2.4" fill="#fff" stroke="#000" stroke-width="1.5"/>
<circle cx="501.1" cy="543" r="2.4" fill="#fff" stroke="#000" stroke-width="1.5"/>
<line x1="491" y1="538.4" x2="504" y2="538.4" stroke="#000" stroke-width="1.8"/>
<text x="418" y="618.8" font-size="10.8" text-anchor="end" font-weight="normal" stroke="#000" stroke-width="0.35">del17p</text>
<text x="430.9" y="614.8" font-size="8.5" text-anchor="middle" font-weight="normal" stroke="#000" stroke-width="0.35">-</text>
<text x="453" y="614.8" font-size="8.5" text-anchor="middle" font-weight="normal" stroke="#000" stroke-width="0.35">+</text>
<text x="475.4" y="614.8" font-size="8.5" text-anchor="middle" font-weight="normal" stroke="#000" stroke-width="0.35">-</text>
<text x="497" y="614.8" font-size="8.5" text-anchor="middle" font-weight="normal" stroke="#000" stroke-width="0.35">+</text>
<text x="460.5" y="626" font-size="10" text-anchor="end" font-weight="normal" stroke="#000" stroke-width="0.35" transform="rotate(-30 460.5 626)">RIMA-1<tspan dy="-3.2" font-size="7">Met</tspan></text>
<text x="492.8" y="630.5" font-size="9.3" text-anchor="end" font-weight="normal" stroke="#000" stroke-width="0.35" transform="rotate(-30 492.8 630.5)">Nutlin3a</text>
</svg>
</body></html>
